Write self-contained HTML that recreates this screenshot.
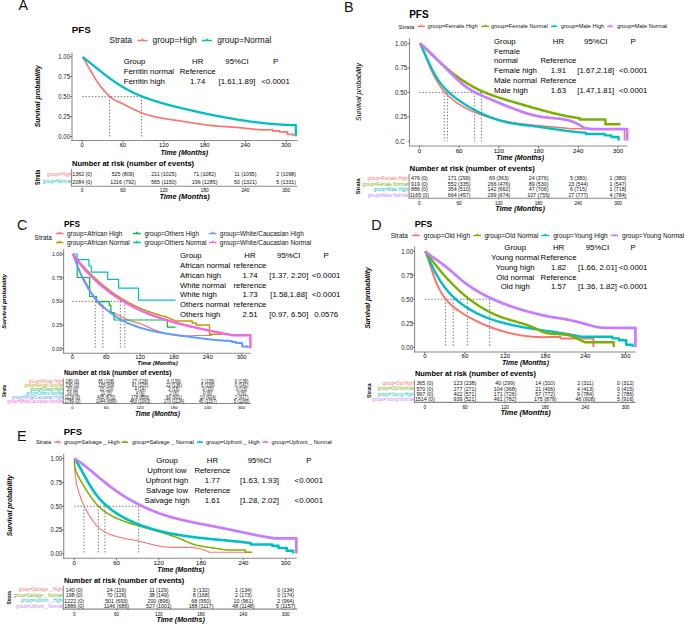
<!DOCTYPE html>
<html><head><meta charset="utf-8"><title>PFS</title>
<style>
html,body{margin:0;padding:0;background:#fff;}
body{width:685px;height:624px;overflow:hidden;}
svg{display:block;font-family:"Liberation Sans", sans-serif;}
</style></head><body>
<svg width="685" height="624" viewBox="0 0 685 624">
<rect width="685" height="624" fill="#fff"/>
<text x="18.40" y="10.11" font-size="14.20" text-anchor="start" font-weight="normal" font-style="normal" fill="#111">A</text>
<text x="71.80" y="33.23" font-size="9.80" text-anchor="start" font-weight="bold" font-style="normal" fill="#000">PFS</text>
<text x="109.30" y="43.36" font-size="8.50" text-anchor="start" font-weight="normal" font-style="normal" fill="#111">Strata</text>
<path d="M137.40,40.50 H147.50" stroke="#F8766D" stroke-width="1.5" fill="none"/>
<path d="M140.85,40.80 L142.45,37.90 L144.05,40.80 Z" fill="#F8766D"/>
<text x="152.50" y="43.36" font-size="8.50" text-anchor="start" font-weight="normal" font-style="normal" fill="#111">group=High</text>
<path d="M202.00,40.50 H212.00" stroke="#00BFC4" stroke-width="1.5" fill="none"/>
<path d="M205.40,40.80 L207.00,37.90 L208.60,40.80 Z" fill="#00BFC4"/>
<text x="217.20" y="43.36" font-size="8.50" text-anchor="start" font-weight="normal" font-style="normal" fill="#111">group=Normal</text>
<line x1="72.00" y1="52.50" x2="72.00" y2="141.05" stroke="#8a8a8a" stroke-width="1.1"/>
<line x1="71.45" y1="140.50" x2="297.50" y2="140.50" stroke="#8a8a8a" stroke-width="1.1"/>
<line x1="70.00" y1="56.80" x2="72.00" y2="56.80" stroke="#555" stroke-width="0.8"/>
<text x="70.00" y="59.10" font-size="6.40" text-anchor="end" font-weight="normal" font-style="normal" fill="#222" textLength="11.7" lengthAdjust="spacingAndGlyphs">1.00</text>
<line x1="70.00" y1="76.72" x2="72.00" y2="76.72" stroke="#555" stroke-width="0.8"/>
<text x="70.00" y="79.03" font-size="6.40" text-anchor="end" font-weight="normal" font-style="normal" fill="#222" textLength="11.7" lengthAdjust="spacingAndGlyphs">0.75</text>
<line x1="70.00" y1="96.65" x2="72.00" y2="96.65" stroke="#555" stroke-width="0.8"/>
<text x="70.00" y="98.95" font-size="6.40" text-anchor="end" font-weight="normal" font-style="normal" fill="#222" textLength="11.7" lengthAdjust="spacingAndGlyphs">0.50</text>
<line x1="70.00" y1="116.58" x2="72.00" y2="116.58" stroke="#555" stroke-width="0.8"/>
<text x="70.00" y="118.88" font-size="6.40" text-anchor="end" font-weight="normal" font-style="normal" fill="#222" textLength="11.7" lengthAdjust="spacingAndGlyphs">0.25</text>
<line x1="70.00" y1="136.50" x2="72.00" y2="136.50" stroke="#555" stroke-width="0.8"/>
<text x="70.00" y="138.80" font-size="6.40" text-anchor="end" font-weight="normal" font-style="normal" fill="#222" textLength="11.7" lengthAdjust="spacingAndGlyphs">0.00</text>
<line x1="82.20" y1="140.50" x2="82.20" y2="142.50" stroke="#555" stroke-width="0.8"/>
<text x="82.20" y="147.49" font-size="5.80" text-anchor="middle" font-weight="normal" font-style="normal" fill="#000">0</text>
<line x1="123.00" y1="140.50" x2="123.00" y2="142.50" stroke="#555" stroke-width="0.8"/>
<text x="123.00" y="147.49" font-size="5.80" text-anchor="middle" font-weight="normal" font-style="normal" fill="#000">60</text>
<line x1="163.80" y1="140.50" x2="163.80" y2="142.50" stroke="#555" stroke-width="0.8"/>
<text x="163.80" y="147.49" font-size="5.80" text-anchor="middle" font-weight="normal" font-style="normal" fill="#000">120</text>
<line x1="204.60" y1="140.50" x2="204.60" y2="142.50" stroke="#555" stroke-width="0.8"/>
<text x="204.60" y="147.49" font-size="5.80" text-anchor="middle" font-weight="normal" font-style="normal" fill="#000">180</text>
<line x1="245.40" y1="140.50" x2="245.40" y2="142.50" stroke="#555" stroke-width="0.8"/>
<text x="245.40" y="147.49" font-size="5.80" text-anchor="middle" font-weight="normal" font-style="normal" fill="#000">240</text>
<line x1="286.20" y1="140.50" x2="286.20" y2="142.50" stroke="#555" stroke-width="0.8"/>
<text x="286.20" y="147.49" font-size="5.80" text-anchor="middle" font-weight="normal" font-style="normal" fill="#000">300</text>
<text transform="translate(40.01,96.30) rotate(-90)" x="0" y="0" font-size="6.70" text-anchor="middle" font-weight="bold" font-style="italic" fill="#000">Survival probability</text>
<text x="184.30" y="154.72" font-size="7.00" text-anchor="middle" font-weight="bold" font-style="italic" fill="#000">Time (Months)</text>
<text x="123.70" y="64.31" font-size="7.80" text-anchor="start" font-weight="normal" font-style="normal" fill="#000">Group</text>
<text x="197.70" y="64.31" font-size="7.80" text-anchor="middle" font-weight="normal" font-style="normal" fill="#000">HR</text>
<text x="237.00" y="64.31" font-size="7.80" text-anchor="middle" font-weight="normal" font-style="normal" fill="#000">95%CI</text>
<text x="275.60" y="64.31" font-size="7.80" text-anchor="middle" font-weight="normal" font-style="normal" fill="#000">P</text>
<text x="123.70" y="74.31" font-size="7.80" text-anchor="start" font-weight="normal" font-style="normal" fill="#000">Ferritin normal</text>
<text x="197.70" y="74.31" font-size="7.80" text-anchor="middle" font-weight="normal" font-style="normal" fill="#000">Reference</text>
<text x="123.70" y="84.11" font-size="7.80" text-anchor="start" font-weight="normal" font-style="normal" fill="#000">Ferritin high</text>
<text x="197.70" y="84.11" font-size="7.80" text-anchor="middle" font-weight="normal" font-style="normal" fill="#000">1.74</text>
<text x="237.00" y="84.11" font-size="7.80" text-anchor="middle" font-weight="normal" font-style="normal" fill="#000">[1.61,1.89]</text>
<text x="275.60" y="84.11" font-size="7.80" text-anchor="middle" font-weight="normal" font-style="normal" fill="#000">&lt;0.0001</text>
<line x1="82.20" y1="96.65" x2="141.43" y2="96.65" stroke="#444" stroke-width="0.75" stroke-dasharray="1.4,1.8"/>
<line x1="109.60" y1="96.65" x2="109.60" y2="136.50" stroke="#444" stroke-width="0.75" stroke-dasharray="1.4,1.8"/>
<line x1="141.43" y1="96.65" x2="141.43" y2="136.50" stroke="#444" stroke-width="0.75" stroke-dasharray="1.4,1.8"/>
<path d="M82.50,56.90 L82.93,57.58 L83.36,58.26 L83.79,58.95 L84.21,59.63 L84.62,60.32 L85.03,61.01 L85.44,61.70 L85.84,62.39 L86.24,63.08 L86.64,63.77 L87.04,64.47 L87.43,65.16 L87.82,65.86 L88.21,66.55 L88.60,67.25 L88.99,67.94 L89.38,68.64 L89.77,69.33 L90.16,70.03 L90.55,70.72 L90.94,71.42 L91.34,72.11 L91.73,72.80 L92.13,73.50 L92.53,74.19 L92.93,74.88 L93.34,75.56 L93.75,76.25 L94.16,76.93 L94.58,77.62 L95.00,78.30 L95.43,78.97 L95.86,79.65 L96.30,80.32 L96.74,81.00 L97.19,81.66 L97.64,82.33 L98.10,82.99 L98.56,83.65 L99.03,84.30 L99.50,84.95 L99.98,85.60 L100.47,86.24 L100.96,86.88 L101.45,87.51 L101.95,88.14 L102.46,88.77 L102.97,89.39 L103.49,90.00 L104.01,90.61 L104.54,91.21 L105.08,91.80 L105.62,92.39 L106.16,92.98 L106.72,93.55 L107.28,94.12 L107.84,94.68 L108.41,95.24 L108.99,95.79 L109.58,96.33 L110.17,96.86 L110.77,97.38 L111.37,97.89 L112.00,98.38 L112.63,98.84 L113.29,99.28 L113.96,99.69 L114.65,100.06 L115.36,100.41 L116.07,100.75 L116.80,101.07 L117.54,101.38 L118.27,101.69 L119.01,102.00 L119.74,102.32 L120.46,102.65 L121.19,102.99 L121.91,103.34 L122.62,103.69 L123.34,104.05 L124.05,104.42 L124.76,104.78 L125.47,105.15 L126.19,105.52 L126.90,105.89 L127.61,106.26 L128.32,106.63 L129.04,107.00 L129.75,107.37 L130.47,107.73 L131.18,108.09 L131.90,108.45 L132.62,108.81 L133.34,109.16 L134.06,109.51 L134.79,109.85 L135.51,110.19 L136.24,110.52 L136.97,110.85 L137.70,111.18 L138.43,111.50 L139.17,111.81 L139.91,112.11 L140.65,112.41 L141.39,112.70 L142.13,112.98 L142.88,113.26 L143.63,113.53 L144.38,113.79 L145.14,114.04 L145.89,114.29 L146.65,114.53 L147.41,114.76 L148.18,114.99 L148.94,115.21 L149.71,115.43 L150.48,115.64 L151.25,115.84 L152.02,116.04 L152.80,116.24 L153.57,116.42 L154.35,116.61 L155.13,116.79 L155.91,116.96 L156.69,117.13 L157.47,117.30 L158.26,117.46 L159.04,117.61 L159.83,117.77 L160.62,117.92 L161.41,118.07 L162.20,118.21 L162.99,118.35 L163.78,118.49 L164.57,118.62 L165.36,118.75 L166.16,118.88 L166.95,119.01 L167.75,119.14 L168.54,119.26 L169.34,119.38 L170.13,119.51 L170.93,119.62 L171.73,119.74 L172.52,119.86 L173.32,119.98 L174.12,120.09 L174.91,120.21 L175.71,120.32 L176.51,120.44 L177.30,120.55 L178.10,120.66 L178.90,120.78 L179.69,120.90 L180.49,121.01 L181.28,121.13 L182.08,121.25 L182.87,121.37 L183.66,121.49 L184.45,121.61 L185.25,121.73 L186.04,121.85 L186.83,121.98 L187.62,122.10 L188.41,122.23 L189.20,122.35 L189.99,122.48 L190.78,122.61 L191.56,122.73 L192.35,122.86 L193.14,122.98 L193.93,123.11 L194.72,123.23 L195.51,123.36 L196.29,123.48 L197.08,123.60 L197.87,123.72 L198.66,123.84 L199.45,123.96 L200.23,124.07 L201.02,124.19 L201.81,124.30 L202.60,124.41 L203.39,124.52 L204.18,124.63 L204.97,124.73 L205.76,124.84 L206.55,124.94 L207.34,125.03 L208.14,125.13 L208.93,125.22 L209.72,125.31 L210.52,125.39 L211.31,125.47 L212.11,125.55 L212.90,125.63 L213.70,125.71 L214.50,125.78 L215.30,125.85 L216.09,125.92 L216.89,125.99 L217.69,126.05 L218.49,126.11 L219.29,126.18 L220.09,126.24 L220.89,126.30 L221.69,126.36 L222.49,126.41 L223.29,126.47 L224.09,126.53 L224.89,126.58 L225.69,126.64 L226.49,126.69 L227.29,126.75 L228.09,126.80 L228.89,126.86 L229.69,126.92 L230.49,126.97 L231.29,127.03 L232.09,127.09 L232.89,127.15 L233.69,127.21 L234.49,127.27 L235.29,127.33 L236.09,127.39 L236.89,127.46 L237.69,127.52 L238.49,127.59 L239.28,127.66 L240.08,127.74 L240.88,127.81 L241.68,127.89 L242.47,127.97 L243.27,128.05 L244.06,128.13 L244.86,128.22 L245.65,128.30 L246.45,128.39 L247.24,128.48 L248.03,128.56 L248.83,128.65 L249.62,128.74 L250.41,128.82 L251.21,128.91 L252.00,128.99 L252.80,129.07 L253.59,129.15 L254.38,129.22 L255.18,129.30 L255.97,129.37 L256.77,129.44 L257.56,129.50 L258.36,129.56 L259.15,129.62 L259.95,129.67 L260.75,129.71 L261.55,129.75 L262.34,129.79 L263.14,129.82 L263.94,129.84 L264.74,129.86 L265.54,129.87 L266.35,129.87 L267.15,129.87 L267.95,129.85 L268.76,129.83 L269.56,129.81 L270.37,129.77 L271.18,129.72 L271.99,129.67 L272.80,129.60 V130.90 H279.40 V131.90 H287.30 V134.40 H293.60 V136.30" fill="none" stroke="#F8766D" stroke-width="1.7" stroke-linejoin="round"/>
<path d="M82.50,56.90 L83.13,57.39 L83.76,57.88 L84.39,58.37 L85.02,58.86 L85.65,59.36 L86.28,59.86 L86.91,60.35 L87.53,60.85 L88.16,61.35 L88.79,61.86 L89.41,62.36 L90.04,62.86 L90.67,63.37 L91.29,63.87 L91.92,64.38 L92.54,64.89 L93.17,65.39 L93.80,65.90 L94.42,66.41 L95.05,66.91 L95.68,67.42 L96.30,67.93 L96.93,68.43 L97.56,68.94 L98.19,69.44 L98.82,69.95 L99.45,70.45 L100.08,70.95 L100.71,71.45 L101.34,71.95 L101.98,72.45 L102.61,72.95 L103.25,73.44 L103.88,73.94 L104.52,74.43 L105.16,74.92 L105.80,75.40 L106.44,75.89 L107.08,76.37 L107.72,76.86 L108.37,77.33 L109.01,77.81 L109.66,78.28 L110.31,78.76 L110.96,79.22 L111.61,79.69 L112.26,80.15 L112.92,80.61 L113.57,81.07 L114.23,81.52 L114.89,81.98 L115.55,82.42 L116.21,82.87 L116.88,83.31 L117.54,83.75 L118.21,84.18 L118.88,84.61 L119.55,85.04 L120.23,85.46 L120.90,85.88 L121.58,86.29 L122.26,86.70 L122.94,87.11 L123.63,87.51 L124.31,87.91 L125.00,88.30 L125.69,88.69 L126.38,89.08 L127.08,89.46 L127.77,89.84 L128.47,90.21 L129.17,90.57 L129.88,90.93 L130.58,91.29 L131.29,91.65 L132.00,91.99 L132.71,92.34 L133.43,92.68 L134.14,93.02 L134.86,93.35 L135.58,93.68 L136.30,94.00 L137.03,94.32 L137.75,94.64 L138.48,94.95 L139.21,95.26 L139.94,95.56 L140.67,95.86 L141.41,96.16 L142.14,96.45 L142.88,96.74 L143.62,97.03 L144.36,97.32 L145.10,97.60 L145.85,97.87 L146.59,98.15 L147.34,98.42 L148.09,98.69 L148.84,98.95 L149.59,99.21 L150.34,99.47 L151.09,99.73 L151.85,99.98 L152.61,100.23 L153.36,100.48 L154.12,100.72 L154.88,100.97 L155.64,101.21 L156.41,101.44 L157.17,101.68 L157.93,101.91 L158.70,102.14 L159.47,102.37 L160.23,102.59 L161.00,102.82 L161.77,103.04 L162.54,103.26 L163.31,103.48 L164.08,103.69 L164.86,103.91 L165.63,104.12 L166.40,104.33 L167.18,104.54 L167.95,104.74 L168.73,104.95 L169.51,105.15 L170.28,105.36 L171.06,105.56 L171.84,105.76 L172.62,105.95 L173.40,106.15 L174.18,106.35 L174.96,106.54 L175.74,106.74 L176.52,106.93 L177.30,107.12 L178.08,107.31 L178.86,107.50 L179.64,107.69 L180.43,107.88 L181.21,108.07 L181.99,108.25 L182.77,108.44 L183.56,108.63 L184.34,108.81 L185.12,109.00 L185.90,109.18 L186.69,109.36 L187.47,109.55 L188.25,109.73 L189.04,109.91 L189.82,110.09 L190.60,110.27 L191.39,110.45 L192.17,110.63 L192.95,110.81 L193.74,110.99 L194.52,111.17 L195.30,111.35 L196.09,111.52 L196.87,111.70 L197.66,111.87 L198.44,112.05 L199.23,112.22 L200.01,112.39 L200.79,112.56 L201.58,112.74 L202.36,112.91 L203.15,113.08 L203.93,113.24 L204.72,113.41 L205.50,113.58 L206.29,113.75 L207.07,113.91 L207.86,114.08 L208.65,114.24 L209.43,114.40 L210.22,114.57 L211.00,114.73 L211.79,114.89 L212.57,115.05 L213.36,115.21 L214.15,115.37 L214.93,115.52 L215.72,115.68 L216.51,115.83 L217.29,115.99 L218.08,116.14 L218.87,116.29 L219.65,116.45 L220.44,116.60 L221.23,116.75 L222.02,116.89 L222.80,117.04 L223.59,117.19 L224.38,117.33 L225.17,117.48 L225.95,117.62 L226.74,117.77 L227.53,117.91 L228.32,118.05 L229.11,118.19 L229.89,118.33 L230.68,118.46 L231.47,118.60 L232.26,118.73 L233.05,118.87 L233.84,119.00 L234.63,119.13 L235.42,119.26 L236.21,119.39 L237.00,119.52 L237.79,119.65 L238.58,119.77 L239.37,119.90 L240.16,120.02 L240.95,120.15 L241.74,120.27 L242.53,120.39 L243.32,120.51 L244.11,120.62 L244.90,120.74 L245.69,120.86 L246.48,120.97 L247.27,121.08 L248.06,121.19 L248.86,121.30 L249.65,121.41 L250.44,121.52 L251.23,121.63 L252.02,121.73 L252.81,121.83 L253.61,121.94 L254.40,122.04 L255.19,122.14 L255.98,122.23 L256.78,122.33 L257.57,122.43 L258.36,122.52 L259.16,122.61 L259.95,122.70 L260.74,122.79 L261.54,122.88 L262.33,122.97 L263.12,123.05 L263.92,123.14 L264.71,123.22 L265.51,123.30 L266.30,123.38 L267.10,123.46 L267.89,123.54 L268.68,123.61 L269.48,123.68 L270.28,123.76 L271.07,123.83 L271.87,123.90 L272.66,123.96 L273.46,124.03 L274.25,124.09 L275.05,124.16 L275.85,124.22 L276.64,124.28 L277.44,124.33 L278.23,124.39 L279.03,124.44 L279.83,124.50 L280.63,124.55 L281.42,124.60 L282.22,124.65 L283.02,124.69 L283.82,124.74 L284.61,124.78 L285.41,124.82 L286.21,124.86 L287.01,124.90 L287.81,124.94 L288.61,124.97 L289.40,125.00 L290.20,125.03 L291.00,125.06 L291.80,125.09 L292.60,125.12 L293.40,125.14 L294.20,125.16 L295.00,125.18 L295.80,125.20 V136.30" fill="none" stroke="#00BFC4" stroke-width="2.3" stroke-linejoin="round"/>
<text x="72.00" y="165.90" font-size="7.50" text-anchor="start" font-weight="bold" font-style="normal" fill="#000">Number at risk (number of events)</text>
<text transform="translate(39.87,177.40) rotate(-90)" x="0" y="0" font-size="6.30" text-anchor="middle" font-weight="bold" font-style="normal" fill="#000" textLength="15.0" lengthAdjust="spacingAndGlyphs">Strata</text>
<line x1="71.60" y1="169.00" x2="71.60" y2="186.75" stroke="#8a8a8a" stroke-width="1.1"/>
<line x1="71.05" y1="186.20" x2="297.20" y2="186.20" stroke="#8a8a8a" stroke-width="1.1"/>
<text x="47.10" y="175.73" font-size="4.80" text-anchor="start" font-weight="normal" font-style="normal" fill="#F8766D" textLength="23.9" lengthAdjust="spacingAndGlyphs">group=High</text>
<line x1="70.10" y1="174.00" x2="71.60" y2="174.00" stroke="#8a8a8a" stroke-width="0.6"/>
<text x="82.20" y="175.91" font-size="5.30" text-anchor="middle" font-weight="normal" font-style="normal" fill="#111">1362 (0)</text>
<text x="123.00" y="175.91" font-size="5.30" text-anchor="middle" font-weight="normal" font-style="normal" fill="#111">525 (809)</text>
<text x="163.80" y="175.91" font-size="5.30" text-anchor="middle" font-weight="normal" font-style="normal" fill="#111">211 (1025)</text>
<text x="204.60" y="175.91" font-size="5.30" text-anchor="middle" font-weight="normal" font-style="normal" fill="#111">71 (1082)</text>
<text x="245.40" y="175.91" font-size="5.30" text-anchor="middle" font-weight="normal" font-style="normal" fill="#111">11 (1095)</text>
<text x="286.20" y="175.91" font-size="5.30" text-anchor="middle" font-weight="normal" font-style="normal" fill="#111">2 (1098)</text>
<text x="42.40" y="183.33" font-size="4.80" text-anchor="start" font-weight="normal" font-style="normal" fill="#00BFC4" textLength="28.6" lengthAdjust="spacingAndGlyphs">group=Normal</text>
<line x1="70.10" y1="181.60" x2="71.60" y2="181.60" stroke="#8a8a8a" stroke-width="0.6"/>
<text x="82.20" y="183.51" font-size="5.30" text-anchor="middle" font-weight="normal" font-style="normal" fill="#111">2084 (0)</text>
<text x="123.00" y="183.51" font-size="5.30" text-anchor="middle" font-weight="normal" font-style="normal" fill="#111">1216 (792)</text>
<text x="163.80" y="183.51" font-size="5.30" text-anchor="middle" font-weight="normal" font-style="normal" fill="#111">565 (1150)</text>
<text x="204.60" y="183.51" font-size="5.30" text-anchor="middle" font-weight="normal" font-style="normal" fill="#111">196 (1285)</text>
<text x="245.40" y="183.51" font-size="5.30" text-anchor="middle" font-weight="normal" font-style="normal" fill="#111">50 (1321)</text>
<text x="286.20" y="183.51" font-size="5.30" text-anchor="middle" font-weight="normal" font-style="normal" fill="#111">5 (1331)</text>
<line x1="82.20" y1="186.20" x2="82.20" y2="187.70" stroke="#8a8a8a" stroke-width="0.6"/>
<text x="82.20" y="191.93" font-size="4.80" text-anchor="middle" font-weight="normal" font-style="normal" fill="#000">0</text>
<line x1="123.00" y1="186.20" x2="123.00" y2="187.70" stroke="#8a8a8a" stroke-width="0.6"/>
<text x="123.00" y="191.93" font-size="4.80" text-anchor="middle" font-weight="normal" font-style="normal" fill="#000">60</text>
<line x1="163.80" y1="186.20" x2="163.80" y2="187.70" stroke="#8a8a8a" stroke-width="0.6"/>
<text x="163.80" y="191.93" font-size="4.80" text-anchor="middle" font-weight="normal" font-style="normal" fill="#000">120</text>
<line x1="204.60" y1="186.20" x2="204.60" y2="187.70" stroke="#8a8a8a" stroke-width="0.6"/>
<text x="204.60" y="191.93" font-size="4.80" text-anchor="middle" font-weight="normal" font-style="normal" fill="#000">180</text>
<line x1="245.40" y1="186.20" x2="245.40" y2="187.70" stroke="#8a8a8a" stroke-width="0.6"/>
<text x="245.40" y="191.93" font-size="4.80" text-anchor="middle" font-weight="normal" font-style="normal" fill="#000">240</text>
<line x1="286.20" y1="186.20" x2="286.20" y2="187.70" stroke="#8a8a8a" stroke-width="0.6"/>
<text x="286.20" y="191.93" font-size="4.80" text-anchor="middle" font-weight="normal" font-style="normal" fill="#000">300</text>
<text x="184.60" y="199.06" font-size="7.40" text-anchor="middle" font-weight="bold" font-style="italic" fill="#000">Time (Months)</text>
<text x="344.00" y="12.38" font-size="14.40" text-anchor="start" font-weight="normal" font-style="normal" fill="#111">B</text>
<text x="409.20" y="18.20" font-size="10.00" text-anchor="start" font-weight="bold" font-style="normal" fill="#000">PFS</text>
<text x="398.60" y="28.52" font-size="5.90" text-anchor="start" font-weight="normal" font-style="normal" fill="#111">Strata</text>
<path d="M417.70,26.40 H425.00" stroke="#F8766D" stroke-width="1.5" fill="none"/>
<path d="M419.75,26.70 L421.35,24.21 L422.95,26.70 Z" fill="#F8766D"/>
<text x="427.50" y="28.45" font-size="5.70" text-anchor="start" font-weight="normal" font-style="normal" fill="#111">group=Female High</text>
<path d="M481.50,26.40 H489.00" stroke="#7CAE00" stroke-width="1.5" fill="none"/>
<path d="M483.65,26.70 L485.25,24.15 L486.85,26.70 Z" fill="#7CAE00"/>
<text x="491.00" y="28.45" font-size="5.70" text-anchor="start" font-weight="normal" font-style="normal" fill="#111">group=Female Normal</text>
<path d="M551.20,26.40 H557.20" stroke="#00BFC4" stroke-width="1.5" fill="none"/>
<path d="M552.60,26.70 L554.20,24.60 L555.80,26.70 Z" fill="#00BFC4"/>
<text x="560.80" y="28.45" font-size="5.70" text-anchor="start" font-weight="normal" font-style="normal" fill="#111">group=Male High</text>
<path d="M607.20,26.40 H613.20" stroke="#C77CFF" stroke-width="1.5" fill="none"/>
<path d="M608.60,26.70 L610.20,24.60 L611.80,26.70 Z" fill="#C77CFF"/>
<text x="617.00" y="28.45" font-size="5.70" text-anchor="start" font-weight="normal" font-style="normal" fill="#111">group=Male Normal</text>
<line x1="409.50" y1="38.30" x2="409.50" y2="146.55" stroke="#8a8a8a" stroke-width="1.1"/>
<line x1="408.95" y1="146.00" x2="627.50" y2="146.00" stroke="#8a8a8a" stroke-width="1.1"/>
<line x1="407.50" y1="43.60" x2="409.50" y2="43.60" stroke="#555" stroke-width="0.8"/>
<text x="407.20" y="45.94" font-size="6.50" text-anchor="end" font-weight="normal" font-style="normal" fill="#222" textLength="12.1" lengthAdjust="spacingAndGlyphs">1.00</text>
<line x1="407.50" y1="68.00" x2="409.50" y2="68.00" stroke="#555" stroke-width="0.8"/>
<text x="407.20" y="70.34" font-size="6.50" text-anchor="end" font-weight="normal" font-style="normal" fill="#222" textLength="12.1" lengthAdjust="spacingAndGlyphs">0.75</text>
<line x1="407.50" y1="92.40" x2="409.50" y2="92.40" stroke="#555" stroke-width="0.8"/>
<text x="407.20" y="94.74" font-size="6.50" text-anchor="end" font-weight="normal" font-style="normal" fill="#222" textLength="12.1" lengthAdjust="spacingAndGlyphs">0.50</text>
<line x1="407.50" y1="116.80" x2="409.50" y2="116.80" stroke="#555" stroke-width="0.8"/>
<text x="407.20" y="119.14" font-size="6.50" text-anchor="end" font-weight="normal" font-style="normal" fill="#222" textLength="12.1" lengthAdjust="spacingAndGlyphs">0.25</text>
<line x1="407.50" y1="141.20" x2="409.50" y2="141.20" stroke="#555" stroke-width="0.8"/>
<line x1="419.40" y1="146.00" x2="419.40" y2="148.00" stroke="#555" stroke-width="0.8"/>
<text x="419.40" y="152.73" font-size="6.20" text-anchor="middle" font-weight="normal" font-style="normal" fill="#000">0</text>
<line x1="459.12" y1="146.00" x2="459.12" y2="148.00" stroke="#555" stroke-width="0.8"/>
<text x="459.12" y="152.73" font-size="6.20" text-anchor="middle" font-weight="normal" font-style="normal" fill="#000">60</text>
<line x1="498.84" y1="146.00" x2="498.84" y2="148.00" stroke="#555" stroke-width="0.8"/>
<text x="498.84" y="152.73" font-size="6.20" text-anchor="middle" font-weight="normal" font-style="normal" fill="#000">120</text>
<line x1="538.56" y1="146.00" x2="538.56" y2="148.00" stroke="#555" stroke-width="0.8"/>
<text x="538.56" y="152.73" font-size="6.20" text-anchor="middle" font-weight="normal" font-style="normal" fill="#000">180</text>
<line x1="578.28" y1="146.00" x2="578.28" y2="148.00" stroke="#555" stroke-width="0.8"/>
<text x="578.28" y="152.73" font-size="6.20" text-anchor="middle" font-weight="normal" font-style="normal" fill="#000">240</text>
<line x1="618.00" y1="146.00" x2="618.00" y2="148.00" stroke="#555" stroke-width="0.8"/>
<text x="618.00" y="152.73" font-size="6.20" text-anchor="middle" font-weight="normal" font-style="normal" fill="#000">300</text>
<text x="395.20" y="143.74" font-size="6.50" text-anchor="start" font-weight="normal" font-style="normal" fill="#222" textLength="9.6" lengthAdjust="spacingAndGlyphs">0.C</text>
<text transform="translate(360.68,92.00) rotate(-90)" x="0" y="0" font-size="6.90" text-anchor="middle" font-weight="normal" font-style="italic" fill="#000">Survival probability</text>
<text x="520.20" y="160.42" font-size="7.00" text-anchor="middle" font-weight="bold" font-style="italic" fill="#000">Time (Months)</text>
<text x="494.00" y="43.81" font-size="7.80" text-anchor="start" font-weight="normal" font-style="normal" fill="#000">Group</text>
<text x="558.40" y="43.81" font-size="7.80" text-anchor="middle" font-weight="normal" font-style="normal" fill="#000">HR</text>
<text x="595.80" y="43.81" font-size="7.80" text-anchor="middle" font-weight="normal" font-style="normal" fill="#000">95%CI</text>
<text x="633.20" y="43.81" font-size="7.80" text-anchor="middle" font-weight="normal" font-style="normal" fill="#000">P</text>
<text x="494.00" y="53.71" font-size="7.80" text-anchor="start" font-weight="normal" font-style="normal" fill="#000">Female</text>
<text x="494.00" y="63.31" font-size="7.80" text-anchor="start" font-weight="normal" font-style="normal" fill="#000">normal</text>
<text x="558.40" y="63.31" font-size="7.80" text-anchor="middle" font-weight="normal" font-style="normal" fill="#000">Reference</text>
<text x="494.00" y="72.81" font-size="7.80" text-anchor="start" font-weight="normal" font-style="normal" fill="#000">Female high</text>
<text x="558.40" y="72.81" font-size="7.80" text-anchor="middle" font-weight="normal" font-style="normal" fill="#000">1.91</text>
<text x="595.80" y="72.81" font-size="7.80" text-anchor="middle" font-weight="normal" font-style="normal" fill="#000">[1.67,2.18]</text>
<text x="633.20" y="72.81" font-size="7.80" text-anchor="middle" font-weight="normal" font-style="normal" fill="#000">&lt;0.0001</text>
<text x="494.00" y="82.51" font-size="7.80" text-anchor="start" font-weight="normal" font-style="normal" fill="#000">Male normal</text>
<text x="558.40" y="82.51" font-size="7.80" text-anchor="middle" font-weight="normal" font-style="normal" fill="#000">Reference</text>
<text x="494.00" y="92.61" font-size="7.80" text-anchor="start" font-weight="normal" font-style="normal" fill="#000">Male high</text>
<text x="558.40" y="92.61" font-size="7.80" text-anchor="middle" font-weight="normal" font-style="normal" fill="#000">1.63</text>
<text x="595.80" y="92.61" font-size="7.80" text-anchor="middle" font-weight="normal" font-style="normal" fill="#000">[1.47,1.81]</text>
<text x="633.20" y="92.61" font-size="7.80" text-anchor="middle" font-weight="normal" font-style="normal" fill="#000">&lt;0.0001</text>
<line x1="444.22" y1="92.40" x2="444.22" y2="141.20" stroke="#444" stroke-width="0.75" stroke-dasharray="1.4,1.8"/>
<line x1="447.40" y1="92.40" x2="447.40" y2="141.20" stroke="#444" stroke-width="0.75" stroke-dasharray="1.4,1.8"/>
<line x1="474.61" y1="92.40" x2="474.61" y2="141.20" stroke="#444" stroke-width="0.75" stroke-dasharray="1.4,1.8"/>
<line x1="481.43" y1="92.40" x2="481.43" y2="141.20" stroke="#444" stroke-width="0.75" stroke-dasharray="1.4,1.8"/>
<line x1="419.40" y1="92.40" x2="481.43" y2="92.40" stroke="#444" stroke-width="0.75" stroke-dasharray="1.4,1.8"/>
<path d="M420.00,43.40 L420.32,44.11 L420.63,44.82 L420.95,45.54 L421.26,46.26 L421.57,46.98 L421.88,47.71 L422.19,48.44 L422.50,49.17 L422.80,49.90 L423.11,50.64 L423.42,51.38 L423.72,52.12 L424.03,52.87 L424.33,53.61 L424.63,54.36 L424.94,55.11 L425.24,55.86 L425.55,56.61 L425.85,57.36 L426.16,58.11 L426.47,58.86 L426.77,59.62 L427.08,60.37 L427.39,61.12 L427.71,61.88 L428.02,62.63 L428.33,63.39 L428.65,64.14 L428.97,64.89 L429.29,65.64 L429.62,66.39 L429.94,67.14 L430.27,67.89 L430.60,68.63 L430.94,69.38 L431.27,70.12 L431.61,70.86 L431.96,71.60 L432.30,72.34 L432.66,73.07 L433.01,73.80 L433.37,74.53 L433.73,75.25 L434.10,75.97 L434.47,76.69 L434.85,77.40 L435.23,78.11 L435.61,78.82 L436.00,79.52 L436.40,80.22 L436.80,80.92 L437.20,81.61 L437.61,82.29 L438.03,82.97 L438.45,83.64 L438.88,84.31 L439.32,84.98 L439.76,85.64 L440.21,86.29 L440.66,86.94 L441.12,87.58 L441.59,88.21 L442.06,88.84 L442.55,89.46 L443.03,90.08 L443.53,90.69 L444.04,91.29 L444.55,91.88 L445.07,92.47 L445.59,93.05 L446.13,93.62 L446.67,94.18 L447.22,94.74 L447.78,95.29 L448.34,95.84 L448.91,96.37 L449.49,96.90 L450.07,97.43 L450.66,97.94 L451.26,98.45 L451.86,98.95 L452.47,99.45 L453.08,99.94 L453.70,100.42 L454.33,100.90 L454.96,101.37 L455.60,101.83 L456.24,102.29 L456.89,102.74 L457.54,103.19 L458.20,103.63 L458.86,104.06 L459.53,104.49 L460.20,104.91 L460.88,105.32 L461.56,105.73 L462.24,106.14 L462.93,106.53 L463.63,106.92 L464.32,107.31 L465.02,107.69 L465.73,108.07 L466.43,108.44 L467.14,108.80 L467.86,109.16 L468.57,109.51 L469.29,109.86 L470.02,110.20 L470.74,110.54 L471.47,110.87 L472.20,111.20 L472.93,111.52 L473.67,111.84 L474.40,112.15 L475.14,112.46 L475.88,112.76 L476.62,113.06 L477.36,113.35 L478.11,113.64 L478.86,113.92 L479.60,114.20 L480.36,114.48 L481.11,114.75 L481.86,115.01 L482.62,115.27 L483.37,115.53 L484.13,115.78 L484.89,116.03 L485.65,116.27 L486.41,116.51 L487.18,116.75 L487.94,116.98 L488.71,117.21 L489.48,117.43 L490.25,117.65 L491.02,117.87 L491.79,118.08 L492.56,118.29 L493.34,118.50 L494.11,118.70 L494.89,118.90 L495.67,119.09 L496.45,119.28 L497.23,119.47 L498.01,119.65 L498.79,119.83 L499.58,120.01 L500.36,120.18 L501.15,120.36 L501.93,120.52 L502.72,120.69 L503.51,120.85 L504.30,121.01 L505.09,121.16 L505.88,121.32 L506.67,121.47 L507.47,121.61 L508.26,121.76 L509.05,121.90 L509.85,122.04 L510.64,122.18 L511.44,122.31 L512.24,122.44 L513.03,122.57 L513.83,122.70 L514.63,122.82 L515.43,122.94 L516.23,123.06 L517.03,123.18 L517.83,123.30 L518.63,123.41 L519.44,123.52 L520.24,123.63 L521.04,123.74 L521.84,123.85 L522.65,123.95 L523.45,124.05 L524.25,124.15 L525.06,124.25 L525.86,124.35 L526.67,124.44 L527.47,124.54 L528.28,124.63 L529.08,124.72 L529.89,124.81 L530.69,124.90 L531.50,124.99 L532.30,125.07 L533.11,125.16 L533.91,125.24 L534.72,125.32 L535.52,125.40 L536.33,125.48 L537.13,125.56 L537.94,125.64 L538.74,125.72 L539.55,125.80 L540.35,125.87 L541.16,125.95 L541.96,126.02 L542.76,126.10 L543.57,126.17 L544.37,126.24 L545.17,126.32 L545.98,126.39 L546.78,126.46 L547.58,126.53 L548.38,126.60 L549.18,126.67 L549.98,126.75 L550.78,126.82 L551.58,126.89 L552.38,126.96 L553.17,127.03 L553.97,127.10 L554.77,127.17 L555.56,127.24 L556.36,127.32 L557.15,127.39 L557.95,127.46 L558.74,127.53 L559.53,127.61 L560.32,127.68 L561.11,127.76 L561.90,127.83 L562.69,127.91 L563.48,127.98 L564.27,128.06 L565.05,128.14 L565.84,128.22 L566.62,128.30 L567.40,128.38 L568.18,128.46 L568.97,128.54 L569.74,128.63 L570.52,128.71 L571.30,128.80 H624.50 V140.60" fill="none" stroke="#F8766D" stroke-width="1.6" stroke-linejoin="round"/>
<path d="M420.00,43.40 L420.35,44.10 L420.69,44.80 L421.03,45.50 L421.37,46.21 L421.71,46.92 L422.05,47.63 L422.39,48.35 L422.72,49.07 L423.05,49.79 L423.38,50.52 L423.71,51.25 L424.05,51.98 L424.38,52.71 L424.70,53.44 L425.03,54.17 L425.36,54.91 L425.69,55.65 L426.02,56.38 L426.35,57.12 L426.68,57.86 L427.02,58.60 L427.35,59.34 L427.68,60.08 L428.02,60.82 L428.36,61.56 L428.70,62.30 L429.04,63.03 L429.38,63.77 L429.72,64.51 L430.07,65.24 L430.42,65.97 L430.77,66.70 L431.13,67.43 L431.49,68.16 L431.85,68.88 L432.22,69.61 L432.59,70.33 L432.96,71.04 L433.34,71.76 L433.72,72.47 L434.10,73.17 L434.49,73.88 L434.89,74.58 L435.28,75.27 L435.69,75.97 L436.10,76.65 L436.51,77.34 L436.93,78.02 L437.36,78.69 L437.79,79.36 L438.23,80.02 L438.67,80.68 L439.12,81.33 L439.57,81.98 L440.04,82.62 L440.51,83.25 L440.98,83.88 L441.47,84.50 L441.96,85.12 L442.46,85.72 L442.96,86.33 L443.48,86.92 L444.00,87.51 L444.52,88.09 L445.06,88.66 L445.60,89.23 L446.15,89.80 L446.70,90.35 L447.26,90.90 L447.82,91.45 L448.40,91.99 L448.97,92.52 L449.56,93.05 L450.15,93.57 L450.74,94.09 L451.34,94.60 L451.95,95.11 L452.56,95.61 L453.17,96.11 L453.79,96.60 L454.42,97.09 L455.04,97.57 L455.68,98.05 L456.31,98.53 L456.96,99.00 L457.60,99.47 L458.25,99.93 L458.90,100.39 L459.56,100.84 L460.22,101.30 L460.88,101.74 L461.55,102.19 L462.22,102.63 L462.89,103.07 L463.56,103.51 L464.24,103.94 L464.92,104.37 L465.60,104.79 L466.29,105.21 L466.98,105.63 L467.67,106.05 L468.36,106.46 L469.05,106.87 L469.75,107.27 L470.44,107.67 L471.14,108.07 L471.85,108.46 L472.55,108.85 L473.25,109.24 L473.96,109.62 L474.67,110.00 L475.37,110.38 L476.08,110.75 L476.79,111.11 L477.51,111.48 L478.22,111.84 L478.94,112.19 L479.65,112.55 L480.37,112.89 L481.09,113.24 L481.81,113.58 L482.53,113.91 L483.25,114.24 L483.98,114.57 L484.70,114.89 L485.43,115.21 L486.16,115.53 L486.89,115.84 L487.62,116.14 L488.36,116.44 L489.09,116.74 L489.83,117.03 L490.56,117.32 L491.30,117.60 L492.04,117.88 L492.79,118.15 L493.53,118.42 L494.28,118.68 L495.02,118.94 L495.77,119.19 L496.52,119.44 L497.28,119.69 L498.03,119.92 L498.78,120.16 L499.54,120.39 L500.30,120.61 L501.06,120.83 L501.82,121.04 L502.59,121.25 L503.35,121.45 L504.12,121.65 L504.89,121.84 L505.66,122.03 L506.43,122.21 L507.21,122.38 L507.98,122.55 L508.76,122.72 L509.54,122.88 L510.32,123.03 L511.10,123.18 L511.89,123.32 L512.67,123.46 L513.46,123.60 L514.25,123.73 L515.04,123.85 L515.83,123.98 L516.62,124.09 L517.42,124.21 L518.21,124.32 L519.01,124.43 L519.80,124.54 L520.60,124.65 L521.40,124.75 L522.19,124.85 L522.99,124.95 L523.79,125.05 L524.59,125.15 L525.39,125.24 L526.19,125.34 L526.99,125.43 L527.79,125.53 L528.59,125.62 L529.39,125.72 L530.19,125.81 L530.99,125.90 L531.79,126.00 L532.59,126.10 L533.39,126.20 L534.18,126.29 L534.98,126.40 L535.78,126.50 L536.57,126.60 L537.37,126.71 L538.17,126.81 L538.96,126.92 L539.75,127.03 L540.55,127.14 L541.34,127.25 L542.13,127.36 L542.93,127.48 L543.72,127.59 L544.51,127.71 L545.30,127.82 L546.09,127.94 L546.88,128.05 L547.67,128.17 L548.47,128.29 L549.26,128.40 L550.05,128.52 L550.83,128.64 L551.62,128.76 L552.41,128.87 L553.20,128.99 L553.99,129.11 L554.78,129.22 L555.57,129.34 L556.36,129.46 L557.15,129.57 L557.94,129.69 L558.73,129.80 L559.51,129.91 L560.30,130.02 L561.09,130.14 L561.88,130.25 L562.67,130.36 L563.46,130.46 L564.25,130.57 L565.04,130.68 L565.83,130.78 L566.62,130.88 L567.41,130.98 L568.20,131.08 L568.99,131.18 L569.78,131.28 L570.57,131.37 L571.37,131.46 L572.16,131.55 L572.95,131.64 L573.74,131.73 L574.54,131.81 L575.33,131.89 L576.13,131.97 L576.92,132.05 L577.72,132.12 L578.51,132.19 L579.31,132.26 L580.10,132.33 L580.90,132.39 L581.70,132.45 L582.50,132.51 L583.30,132.56 L584.10,132.61 L584.90,132.66 L585.70,132.70 V134.00 H604.80 V135.30 H611.40 V137.00 H618.60 V140.60" fill="none" stroke="#00BFC4" stroke-width="2.3" stroke-linejoin="round"/>
<path d="M420.00,43.40 L420.58,43.94 L421.17,44.47 L421.75,45.01 L422.34,45.55 L422.92,46.10 L423.50,46.64 L424.08,47.19 L424.67,47.74 L425.25,48.29 L425.83,48.84 L426.41,49.39 L426.99,49.94 L427.57,50.50 L428.15,51.05 L428.73,51.61 L429.32,52.16 L429.90,52.72 L430.48,53.28 L431.06,53.83 L431.64,54.39 L432.23,54.95 L432.81,55.50 L433.39,56.06 L433.98,56.62 L434.56,57.18 L435.15,57.73 L435.74,58.29 L436.32,58.84 L436.91,59.40 L437.50,59.95 L438.09,60.50 L438.68,61.05 L439.27,61.60 L439.87,62.15 L440.46,62.70 L441.06,63.24 L441.65,63.79 L442.25,64.33 L442.85,64.87 L443.45,65.41 L444.06,65.95 L444.66,66.48 L445.27,67.01 L445.87,67.54 L446.48,68.07 L447.09,68.60 L447.70,69.12 L448.32,69.64 L448.94,70.15 L449.55,70.67 L450.17,71.18 L450.80,71.68 L451.42,72.19 L452.05,72.69 L452.67,73.19 L453.31,73.68 L453.94,74.17 L454.57,74.66 L455.21,75.15 L455.85,75.63 L456.49,76.11 L457.13,76.58 L457.77,77.05 L458.42,77.52 L459.07,77.99 L459.72,78.45 L460.37,78.91 L461.03,79.36 L461.69,79.81 L462.35,80.26 L463.01,80.70 L463.67,81.14 L464.34,81.58 L465.01,82.01 L465.68,82.43 L466.35,82.86 L467.03,83.28 L467.70,83.69 L468.38,84.11 L469.07,84.51 L469.75,84.92 L470.44,85.32 L471.13,85.71 L471.82,86.10 L472.51,86.49 L473.21,86.87 L473.91,87.25 L474.61,87.62 L475.31,87.99 L476.02,88.36 L476.73,88.72 L477.44,89.07 L478.15,89.42 L478.87,89.77 L479.58,90.11 L480.31,90.45 L481.03,90.78 L481.75,91.11 L482.48,91.43 L483.21,91.75 L483.95,92.07 L484.68,92.38 L485.42,92.68 L486.16,92.98 L486.90,93.28 L487.65,93.57 L488.39,93.86 L489.14,94.15 L489.89,94.43 L490.64,94.71 L491.40,94.99 L492.15,95.26 L492.91,95.53 L493.66,95.80 L494.42,96.06 L495.18,96.32 L495.95,96.58 L496.71,96.84 L497.47,97.09 L498.24,97.34 L499.01,97.59 L499.77,97.84 L500.54,98.09 L501.31,98.33 L502.08,98.57 L502.85,98.81 L503.62,99.05 L504.39,99.29 L505.16,99.53 L505.93,99.76 L506.71,100.00 L507.48,100.23 L508.25,100.47 L509.03,100.70 L509.80,100.93 L510.57,101.16 L511.34,101.39 L512.12,101.62 L512.89,101.85 L513.66,102.08 L514.44,102.31 L515.21,102.54 L515.98,102.77 L516.76,103.00 L517.53,103.22 L518.31,103.45 L519.08,103.67 L519.85,103.90 L520.63,104.12 L521.40,104.35 L522.17,104.57 L522.95,104.80 L523.72,105.02 L524.49,105.24 L525.27,105.46 L526.04,105.68 L526.82,105.90 L527.59,106.12 L528.36,106.34 L529.14,106.56 L529.91,106.78 L530.68,107.00 L531.46,107.22 L532.23,107.44 L533.00,107.65 L533.78,107.87 L534.55,108.09 L535.32,108.30 L536.10,108.52 L536.87,108.73 L537.64,108.95 L538.41,109.16 L539.19,109.37 L539.96,109.59 L540.73,109.80 L541.51,110.01 L542.28,110.22 L543.05,110.43 L543.82,110.64 L544.60,110.84 L545.37,111.05 L546.15,111.25 L546.92,111.46 L547.69,111.66 L548.47,111.86 L549.24,112.06 L550.02,112.26 L550.79,112.45 L551.57,112.65 L552.34,112.84 L553.12,113.04 L553.89,113.23 L554.67,113.42 L555.45,113.60 L556.22,113.79 L557.00,113.97 L557.78,114.16 L558.56,114.34 L559.34,114.51 L560.11,114.69 L560.89,114.86 L561.67,115.04 L562.45,115.20 L563.24,115.37 L564.02,115.54 L564.80,115.70 L565.58,115.86 L566.37,116.02 L567.15,116.17 L567.94,116.32 L568.72,116.47 L569.51,116.61 L570.29,116.76 L571.08,116.90 L571.87,117.03 L572.66,117.17 L573.45,117.29 L574.24,117.42 L575.03,117.54 L575.82,117.66 L576.62,117.78 L577.41,117.89 L578.21,118.00 L579.00,118.10 L579.80,118.20 V119.60 H605.40 V124.20 H620.50" fill="none" stroke="#7CAE00" stroke-width="2.5" stroke-linejoin="round"/>
<path d="M420.00,43.40 L420.61,43.92 L421.22,44.44 L421.83,44.97 L422.43,45.50 L423.03,46.03 L423.63,46.56 L424.23,47.10 L424.83,47.63 L425.42,48.17 L426.01,48.71 L426.60,49.25 L427.19,49.80 L427.78,50.34 L428.36,50.89 L428.95,51.44 L429.53,51.99 L430.11,52.54 L430.69,53.10 L431.27,53.65 L431.85,54.21 L432.42,54.77 L433.00,55.33 L433.57,55.89 L434.14,56.45 L434.71,57.01 L435.29,57.57 L435.86,58.14 L436.42,58.70 L436.99,59.27 L437.56,59.84 L438.13,60.40 L438.70,60.97 L439.26,61.54 L439.83,62.11 L440.39,62.68 L440.96,63.25 L441.52,63.81 L442.09,64.38 L442.65,64.95 L443.22,65.52 L443.78,66.09 L444.35,66.66 L444.91,67.23 L445.48,67.80 L446.04,68.37 L446.61,68.94 L447.17,69.51 L447.74,70.08 L448.31,70.65 L448.87,71.21 L449.44,71.78 L450.01,72.35 L450.58,72.91 L451.15,73.48 L451.72,74.04 L452.29,74.60 L452.87,75.16 L453.44,75.72 L454.01,76.28 L454.59,76.84 L455.17,77.40 L455.75,77.95 L456.33,78.51 L456.91,79.06 L457.49,79.61 L458.07,80.16 L458.66,80.71 L459.25,81.25 L459.84,81.79 L460.44,82.33 L461.04,82.86 L461.64,83.38 L462.25,83.90 L462.86,84.41 L463.48,84.92 L464.11,85.42 L464.74,85.91 L465.38,86.39 L466.02,86.86 L466.67,87.32 L467.33,87.77 L468.00,88.21 L468.67,88.65 L469.35,89.07 L470.03,89.49 L470.72,89.90 L471.41,90.31 L472.10,90.71 L472.80,91.10 L473.51,91.48 L474.21,91.86 L474.92,92.23 L475.63,92.60 L476.34,92.96 L477.06,93.32 L477.77,93.67 L478.49,94.02 L479.21,94.36 L479.94,94.70 L480.66,95.04 L481.39,95.37 L482.11,95.70 L482.84,96.03 L483.57,96.35 L484.30,96.68 L485.03,96.99 L485.77,97.31 L486.50,97.62 L487.24,97.94 L487.98,98.25 L488.71,98.56 L489.45,98.86 L490.19,99.17 L490.93,99.48 L491.67,99.78 L492.41,100.09 L493.15,100.39 L493.89,100.70 L494.63,101.00 L495.37,101.31 L496.11,101.62 L496.85,101.92 L497.60,102.23 L498.34,102.54 L499.08,102.85 L499.82,103.16 L500.56,103.46 L501.30,103.77 L502.05,104.08 L502.79,104.39 L503.53,104.70 L504.27,105.00 L505.02,105.31 L505.76,105.62 L506.50,105.92 L507.25,106.22 L507.99,106.53 L508.74,106.83 L509.48,107.13 L510.23,107.42 L510.97,107.72 L511.72,108.02 L512.47,108.31 L513.22,108.60 L513.97,108.89 L514.72,109.17 L515.47,109.46 L516.22,109.74 L516.97,110.02 L517.72,110.30 L518.47,110.57 L519.23,110.84 L519.98,111.11 L520.74,111.37 L521.49,111.63 L522.25,111.89 L523.01,112.14 L523.77,112.39 L524.53,112.64 L525.29,112.88 L526.05,113.12 L526.82,113.36 L527.58,113.59 L528.35,113.81 L529.11,114.03 L529.88,114.25 L530.65,114.46 L531.42,114.67 L532.19,114.87 L532.96,115.07 L533.74,115.26 L534.51,115.45 L535.29,115.63 L536.06,115.81 L536.84,115.98 L537.62,116.14 L538.41,116.30 L539.19,116.45 L539.98,116.60 L540.76,116.74 L541.55,116.87 L542.34,117.00 L543.13,117.12 L543.92,117.23 L544.72,117.34 L545.51,117.44 L546.31,117.53 L547.11,117.62 L547.91,117.70 L548.71,117.78 L549.51,117.85 L550.32,117.92 L551.12,117.99 L551.92,118.06 L552.73,118.12 L553.53,118.19 L554.33,118.26 L555.14,118.32 L555.94,118.39 L556.74,118.47 L557.54,118.54 L558.34,118.62 L559.14,118.71 L559.94,118.80 L560.74,118.90 L561.53,119.00 L562.32,119.11 L563.11,119.23 L563.90,119.36 L564.69,119.50 L565.47,119.65 L566.25,119.81 L567.03,119.98 L567.81,120.17 L568.58,120.37 L569.34,120.58 L570.11,120.81 L570.87,121.05 L571.63,121.31 L572.38,121.58 L573.13,121.87 L573.87,122.18 L574.61,122.50 L575.35,122.84 L576.08,123.18 L576.80,123.54 L577.52,123.91 L578.23,124.29 L578.94,124.69 L579.65,125.09 L580.34,125.50 L581.04,125.92 L581.72,126.34 L582.40,126.77 L583.07,127.21 L583.74,127.65 L584.40,128.10 L592.00,129.20 H627.10 V140.60" fill="none" stroke="#C77CFF" stroke-width="2.7" stroke-linejoin="round"/>
<text x="409.60" y="171.17" font-size="7.70" text-anchor="start" font-weight="bold" font-style="normal" fill="#000">Number at risk (number of events)</text>
<text transform="translate(360.10,186.30) rotate(-90)" x="0" y="0" font-size="6.10" text-anchor="middle" font-weight="bold" font-style="normal" fill="#000" textLength="16.0" lengthAdjust="spacingAndGlyphs">Strata</text>
<line x1="409.10" y1="174.00" x2="409.10" y2="198.85" stroke="#8a8a8a" stroke-width="1.1"/>
<line x1="408.55" y1="198.30" x2="627.00" y2="198.30" stroke="#8a8a8a" stroke-width="1.1"/>
<text x="367.60" y="179.83" font-size="4.80" text-anchor="start" font-weight="normal" font-style="normal" fill="#F8766D" textLength="40.2" lengthAdjust="spacingAndGlyphs">group=Female High</text>
<line x1="407.60" y1="178.10" x2="409.10" y2="178.10" stroke="#8a8a8a" stroke-width="0.6"/>
<text x="419.40" y="180.01" font-size="5.30" text-anchor="middle" font-weight="normal" font-style="normal" fill="#111">476 (0)</text>
<text x="459.12" y="180.01" font-size="5.30" text-anchor="middle" font-weight="normal" font-style="normal" fill="#111">171 (299)</text>
<text x="498.84" y="180.01" font-size="5.30" text-anchor="middle" font-weight="normal" font-style="normal" fill="#111">69 (363)</text>
<text x="538.56" y="180.01" font-size="5.30" text-anchor="middle" font-weight="normal" font-style="normal" fill="#111">24 (376)</text>
<text x="578.28" y="180.01" font-size="5.30" text-anchor="middle" font-weight="normal" font-style="normal" fill="#111">5 (380)</text>
<text x="618.00" y="180.01" font-size="5.30" text-anchor="middle" font-weight="normal" font-style="normal" fill="#111">1 (380)</text>
<text x="362.30" y="185.63" font-size="4.80" text-anchor="start" font-weight="normal" font-style="normal" fill="#7CAE00" textLength="45.5" lengthAdjust="spacingAndGlyphs">group=Female Normal</text>
<line x1="407.60" y1="183.90" x2="409.10" y2="183.90" stroke="#8a8a8a" stroke-width="0.6"/>
<text x="419.40" y="185.81" font-size="5.30" text-anchor="middle" font-weight="normal" font-style="normal" fill="#111">919 (0)</text>
<text x="459.12" y="185.81" font-size="5.30" text-anchor="middle" font-weight="normal" font-style="normal" fill="#111">552 (335)</text>
<text x="498.84" y="185.81" font-size="5.30" text-anchor="middle" font-weight="normal" font-style="normal" fill="#111">266 (476)</text>
<text x="538.56" y="185.81" font-size="5.30" text-anchor="middle" font-weight="normal" font-style="normal" fill="#111">89 (530)</text>
<text x="578.28" y="185.81" font-size="5.30" text-anchor="middle" font-weight="normal" font-style="normal" fill="#111">23 (544)</text>
<text x="618.00" y="185.81" font-size="5.30" text-anchor="middle" font-weight="normal" font-style="normal" fill="#111">1 (547)</text>
<text x="373.40" y="191.13" font-size="4.80" text-anchor="start" font-weight="normal" font-style="normal" fill="#00BFC4" textLength="34.4" lengthAdjust="spacingAndGlyphs">group=Male High</text>
<line x1="407.60" y1="189.40" x2="409.10" y2="189.40" stroke="#8a8a8a" stroke-width="0.6"/>
<text x="419.40" y="191.31" font-size="5.30" text-anchor="middle" font-weight="normal" font-style="normal" fill="#111">886 (0)</text>
<text x="459.12" y="191.31" font-size="5.30" text-anchor="middle" font-weight="normal" font-style="normal" fill="#111">354 (510)</text>
<text x="498.84" y="191.31" font-size="5.30" text-anchor="middle" font-weight="normal" font-style="normal" fill="#111">142 (662)</text>
<text x="538.56" y="191.31" font-size="5.30" text-anchor="middle" font-weight="normal" font-style="normal" fill="#111">47 (706)</text>
<text x="578.28" y="191.31" font-size="5.30" text-anchor="middle" font-weight="normal" font-style="normal" fill="#111">6 (715)</text>
<text x="618.00" y="191.31" font-size="5.30" text-anchor="middle" font-weight="normal" font-style="normal" fill="#111">1 (718)</text>
<text x="368.10" y="196.93" font-size="4.80" text-anchor="start" font-weight="normal" font-style="normal" fill="#C77CFF" textLength="39.7" lengthAdjust="spacingAndGlyphs">group=Male Normal</text>
<line x1="407.60" y1="195.20" x2="409.10" y2="195.20" stroke="#8a8a8a" stroke-width="0.6"/>
<text x="419.40" y="197.11" font-size="5.30" text-anchor="middle" font-weight="normal" font-style="normal" fill="#111">1165 (0)</text>
<text x="459.12" y="197.11" font-size="5.30" text-anchor="middle" font-weight="normal" font-style="normal" fill="#111">664 (457)</text>
<text x="498.84" y="197.11" font-size="5.30" text-anchor="middle" font-weight="normal" font-style="normal" fill="#111">299 (674)</text>
<text x="538.56" y="197.11" font-size="5.30" text-anchor="middle" font-weight="normal" font-style="normal" fill="#111">107 (755)</text>
<text x="578.28" y="197.11" font-size="5.30" text-anchor="middle" font-weight="normal" font-style="normal" fill="#111">27 (777)</text>
<text x="618.00" y="197.11" font-size="5.30" text-anchor="middle" font-weight="normal" font-style="normal" fill="#111">4 (784)</text>
<line x1="419.40" y1="198.30" x2="419.40" y2="199.80" stroke="#8a8a8a" stroke-width="0.6"/>
<text x="419.40" y="204.66" font-size="4.60" text-anchor="middle" font-weight="normal" font-style="normal" fill="#000">0</text>
<line x1="459.12" y1="198.30" x2="459.12" y2="199.80" stroke="#8a8a8a" stroke-width="0.6"/>
<text x="459.12" y="204.66" font-size="4.60" text-anchor="middle" font-weight="normal" font-style="normal" fill="#000">60</text>
<line x1="498.84" y1="198.30" x2="498.84" y2="199.80" stroke="#8a8a8a" stroke-width="0.6"/>
<text x="498.84" y="204.66" font-size="4.60" text-anchor="middle" font-weight="normal" font-style="normal" fill="#000">120</text>
<line x1="538.56" y1="198.30" x2="538.56" y2="199.80" stroke="#8a8a8a" stroke-width="0.6"/>
<text x="538.56" y="204.66" font-size="4.60" text-anchor="middle" font-weight="normal" font-style="normal" fill="#000">180</text>
<line x1="578.28" y1="198.30" x2="578.28" y2="199.80" stroke="#8a8a8a" stroke-width="0.6"/>
<text x="578.28" y="204.66" font-size="4.60" text-anchor="middle" font-weight="normal" font-style="normal" fill="#000">240</text>
<line x1="618.00" y1="198.30" x2="618.00" y2="199.80" stroke="#8a8a8a" stroke-width="0.6"/>
<text x="618.00" y="204.66" font-size="4.60" text-anchor="middle" font-weight="normal" font-style="normal" fill="#000">300</text>
<text x="520.00" y="211.33" font-size="7.30" text-anchor="middle" font-weight="bold" font-style="italic" fill="#000">Time (Months)</text>
<text x="17.00" y="230.38" font-size="14.40" text-anchor="start" font-weight="normal" font-style="normal" fill="#111">C</text>
<text x="64.00" y="226.55" font-size="8.20" text-anchor="start" font-weight="bold" font-style="normal" fill="#000">PFS</text>
<text x="34.60" y="240.34" font-size="6.50" text-anchor="start" font-weight="normal" font-style="normal" fill="#111">Strata</text>
<path d="M55.80,233.50 H63.30" stroke="#F8766D" stroke-width="1.5" fill="none"/>
<path d="M57.95,233.80 L59.55,231.25 L61.15,233.80 Z" fill="#F8766D"/>
<text x="67.00" y="235.82" font-size="6.45" text-anchor="start" font-weight="normal" font-style="normal" fill="#111">group=African High</text>
<path d="M55.80,242.50 H63.30" stroke="#B79F00" stroke-width="1.5" fill="none"/>
<path d="M57.95,242.80 L59.55,240.25 L61.15,242.80 Z" fill="#B79F00"/>
<text x="67.00" y="244.82" font-size="6.45" text-anchor="start" font-weight="normal" font-style="normal" fill="#111">group=African Normal</text>
<path d="M133.00,233.50 H140.70" stroke="#00BA38" stroke-width="1.5" fill="none"/>
<path d="M135.25,233.80 L136.85,231.19 L138.45,233.80 Z" fill="#00BA38"/>
<text x="144.40" y="235.82" font-size="6.45" text-anchor="start" font-weight="normal" font-style="normal" fill="#111">group=Others High</text>
<path d="M133.00,242.50 H140.70" stroke="#00BFC4" stroke-width="1.5" fill="none"/>
<path d="M135.25,242.80 L136.85,240.19 L138.45,242.80 Z" fill="#00BFC4"/>
<text x="144.40" y="244.82" font-size="6.45" text-anchor="start" font-weight="normal" font-style="normal" fill="#111">group=Others Normal</text>
<path d="M209.00,233.50 H216.50" stroke="#619CFF" stroke-width="1.5" fill="none"/>
<path d="M211.15,233.80 L212.75,231.25 L214.35,233.80 Z" fill="#619CFF"/>
<text x="219.80" y="235.82" font-size="6.45" text-anchor="start" font-weight="normal" font-style="normal" fill="#111">group=White/Caucasian High</text>
<path d="M209.00,242.50 H216.50" stroke="#F564E3" stroke-width="1.5" fill="none"/>
<path d="M211.15,242.80 L212.75,240.25 L214.35,242.80 Z" fill="#F564E3"/>
<text x="219.80" y="244.82" font-size="6.45" text-anchor="start" font-weight="normal" font-style="normal" fill="#111">group=White/Caucasian Normal</text>
<line x1="63.60" y1="249.30" x2="63.60" y2="353.75" stroke="#8a8a8a" stroke-width="1.1"/>
<line x1="63.05" y1="353.20" x2="250.70" y2="353.20" stroke="#8a8a8a" stroke-width="1.1"/>
<line x1="61.60" y1="254.20" x2="63.60" y2="254.20" stroke="#555" stroke-width="0.8"/>
<text x="62.10" y="256.25" font-size="5.70" text-anchor="end" font-weight="normal" font-style="normal" fill="#222" textLength="10.1" lengthAdjust="spacingAndGlyphs">1.00</text>
<line x1="61.60" y1="277.80" x2="63.60" y2="277.80" stroke="#555" stroke-width="0.8"/>
<text x="62.10" y="279.85" font-size="5.70" text-anchor="end" font-weight="normal" font-style="normal" fill="#222" textLength="10.1" lengthAdjust="spacingAndGlyphs">0.75</text>
<line x1="61.60" y1="301.40" x2="63.60" y2="301.40" stroke="#555" stroke-width="0.8"/>
<text x="62.10" y="303.45" font-size="5.70" text-anchor="end" font-weight="normal" font-style="normal" fill="#222" textLength="10.1" lengthAdjust="spacingAndGlyphs">0.50</text>
<line x1="61.60" y1="325.00" x2="63.60" y2="325.00" stroke="#555" stroke-width="0.8"/>
<text x="62.10" y="327.05" font-size="5.70" text-anchor="end" font-weight="normal" font-style="normal" fill="#222" textLength="10.1" lengthAdjust="spacingAndGlyphs">0.25</text>
<line x1="61.60" y1="348.60" x2="63.60" y2="348.60" stroke="#555" stroke-width="0.8"/>
<text x="62.10" y="350.65" font-size="5.70" text-anchor="end" font-weight="normal" font-style="normal" fill="#222" textLength="10.1" lengthAdjust="spacingAndGlyphs">0.00</text>
<line x1="72.40" y1="353.20" x2="72.40" y2="355.20" stroke="#555" stroke-width="0.8"/>
<text x="72.40" y="359.12" font-size="5.90" text-anchor="middle" font-weight="normal" font-style="normal" fill="#000">0</text>
<line x1="106.24" y1="353.20" x2="106.24" y2="355.20" stroke="#555" stroke-width="0.8"/>
<text x="106.24" y="359.12" font-size="5.90" text-anchor="middle" font-weight="normal" font-style="normal" fill="#000">60</text>
<line x1="140.08" y1="353.20" x2="140.08" y2="355.20" stroke="#555" stroke-width="0.8"/>
<text x="140.08" y="359.12" font-size="5.90" text-anchor="middle" font-weight="normal" font-style="normal" fill="#000">120</text>
<line x1="173.92" y1="353.20" x2="173.92" y2="355.20" stroke="#555" stroke-width="0.8"/>
<text x="173.92" y="359.12" font-size="5.90" text-anchor="middle" font-weight="normal" font-style="normal" fill="#000">180</text>
<line x1="207.76" y1="353.20" x2="207.76" y2="355.20" stroke="#555" stroke-width="0.8"/>
<text x="207.76" y="359.12" font-size="5.90" text-anchor="middle" font-weight="normal" font-style="normal" fill="#000">240</text>
<line x1="241.60" y1="353.20" x2="241.60" y2="355.20" stroke="#555" stroke-width="0.8"/>
<text x="241.60" y="359.12" font-size="5.90" text-anchor="middle" font-weight="normal" font-style="normal" fill="#000">300</text>
<text transform="translate(5.82,301.30) rotate(-90)" x="0" y="0" font-size="5.90" text-anchor="middle" font-weight="bold" font-style="italic" fill="#000">Survival probability</text>
<text x="157.60" y="365.04" font-size="5.95" text-anchor="middle" font-weight="bold" font-style="italic" fill="#000">Time (Months)</text>
<text x="180.00" y="258.01" font-size="7.80" text-anchor="start" font-weight="normal" font-style="normal" fill="#000">Group</text>
<text x="250.00" y="258.01" font-size="7.80" text-anchor="middle" font-weight="normal" font-style="normal" fill="#000">HR</text>
<text x="288.80" y="258.01" font-size="7.80" text-anchor="middle" font-weight="normal" font-style="normal" fill="#000">95%CI</text>
<text x="326.20" y="258.01" font-size="7.80" text-anchor="middle" font-weight="normal" font-style="normal" fill="#000">P</text>
<text x="180.00" y="267.71" font-size="7.80" text-anchor="start" font-weight="normal" font-style="normal" fill="#000">African normal</text>
<text x="250.00" y="267.71" font-size="7.80" text-anchor="middle" font-weight="normal" font-style="normal" fill="#000">reference</text>
<text x="180.00" y="277.71" font-size="7.80" text-anchor="start" font-weight="normal" font-style="normal" fill="#000">African high</text>
<text x="250.00" y="277.71" font-size="7.80" text-anchor="middle" font-weight="normal" font-style="normal" fill="#000">1.74</text>
<text x="288.80" y="277.71" font-size="7.80" text-anchor="middle" font-weight="normal" font-style="normal" fill="#000">[1.37, 2.20]</text>
<text x="326.20" y="277.71" font-size="7.80" text-anchor="middle" font-weight="normal" font-style="normal" fill="#000">&lt;0.0001</text>
<text x="180.00" y="287.91" font-size="7.80" text-anchor="start" font-weight="normal" font-style="normal" fill="#000">White normal</text>
<text x="250.00" y="287.91" font-size="7.80" text-anchor="middle" font-weight="normal" font-style="normal" fill="#000">reference</text>
<text x="180.00" y="297.11" font-size="7.80" text-anchor="start" font-weight="normal" font-style="normal" fill="#000">White high</text>
<text x="250.00" y="297.11" font-size="7.80" text-anchor="middle" font-weight="normal" font-style="normal" fill="#000">1.73</text>
<text x="288.80" y="297.11" font-size="7.80" text-anchor="middle" font-weight="normal" font-style="normal" fill="#000">[1.58,1.88]</text>
<text x="326.20" y="297.11" font-size="7.80" text-anchor="middle" font-weight="normal" font-style="normal" fill="#000">&lt;0.0001</text>
<text x="180.00" y="307.31" font-size="7.80" text-anchor="start" font-weight="normal" font-style="normal" fill="#000">Others normal</text>
<text x="250.00" y="307.31" font-size="7.80" text-anchor="middle" font-weight="normal" font-style="normal" fill="#000">reference</text>
<text x="180.00" y="316.81" font-size="7.80" text-anchor="start" font-weight="normal" font-style="normal" fill="#000">Others high</text>
<text x="250.00" y="316.81" font-size="7.80" text-anchor="middle" font-weight="normal" font-style="normal" fill="#000">2.51</text>
<text x="288.80" y="316.81" font-size="7.80" text-anchor="middle" font-weight="normal" font-style="normal" fill="#000">[0.97, 6.50]</text>
<text x="326.20" y="316.81" font-size="7.80" text-anchor="middle" font-weight="normal" font-style="normal" fill="#000">0.0576</text>
<line x1="95.24" y1="301.40" x2="95.24" y2="348.60" stroke="#444" stroke-width="0.75" stroke-dasharray="1.4,1.8"/>
<line x1="102.86" y1="301.40" x2="102.86" y2="348.60" stroke="#444" stroke-width="0.75" stroke-dasharray="1.4,1.8"/>
<line x1="120.34" y1="301.40" x2="120.34" y2="348.60" stroke="#444" stroke-width="0.75" stroke-dasharray="1.4,1.8"/>
<line x1="124.85" y1="301.40" x2="124.85" y2="348.60" stroke="#444" stroke-width="0.75" stroke-dasharray="1.4,1.8"/>
<line x1="72.40" y1="301.40" x2="124.85" y2="301.40" stroke="#444" stroke-width="0.75" stroke-dasharray="1.4,1.8"/>
<path d="M72.90,254.00 L73.23,254.73 L73.54,255.46 L73.85,256.20 L74.16,256.94 L74.45,257.69 L74.75,258.44 L75.03,259.19 L75.32,259.94 L75.60,260.70 L75.88,261.45 L76.16,262.21 L76.43,262.97 L76.71,263.72 L76.99,264.48 L77.27,265.23 L77.56,265.99 L77.84,266.74 L78.14,267.49 L78.43,268.24 L78.74,268.98 L79.05,269.72 L79.36,270.45 L79.69,271.18 L80.02,271.91 L80.37,272.63 L80.72,273.34 L81.09,274.05 L81.47,274.75 L81.86,275.45 L82.26,276.13 L82.67,276.82 L83.09,277.50 L83.51,278.18 L83.93,278.85 L84.35,279.53 L84.77,280.21 L85.19,280.90 L85.59,281.59 L85.99,282.28 L86.38,282.98 L86.75,283.69 L87.12,284.41 L87.48,285.13 L87.83,285.85 L88.18,286.58 L88.53,287.31 L88.87,288.04 L89.22,288.77 L89.56,289.50 L89.91,290.24 L90.26,290.97 L90.62,291.69 L90.98,292.42 L91.34,293.14 L91.72,293.86 L92.10,294.57 L92.49,295.28 L92.88,295.98 L93.29,296.67 L93.71,297.36 L94.13,298.04 L94.57,298.71 L95.01,299.37 L95.47,300.02 L95.93,300.66 L96.41,301.29 L96.90,301.91 L97.41,302.51 L97.92,303.10 L98.45,303.68 L99.00,304.24 L99.56,304.79 L100.13,305.33 L100.72,305.84 L101.32,306.34 L101.94,306.83 L102.57,307.29 L103.23,307.74 L103.89,308.17 L104.57,308.58 L105.26,308.99 L105.96,309.38 L106.68,309.76 L107.40,310.12 L108.13,310.48 L108.87,310.83 L109.61,311.18 L110.36,311.51 L111.11,311.85 L111.86,312.18 L112.62,312.51 L113.38,312.83 L114.13,313.16 L114.89,313.49 L115.64,313.82 L116.39,314.15 L117.13,314.49 L117.87,314.83 L118.60,315.18 L119.33,315.54 L120.04,315.90 L120.76,316.27 L121.47,316.64 L122.17,317.00 L122.88,317.37 L123.58,317.74 L124.29,318.10 L124.99,318.46 L125.70,318.81 L126.41,319.15 L127.12,319.49 L127.84,319.81 L128.56,320.12 L129.29,320.42 L130.03,320.70 L130.78,320.96 L131.53,321.21 L132.30,321.44 L133.07,321.65 L133.85,321.86 L134.63,322.06 L135.42,322.26 L136.20,322.46 L136.98,322.67 L137.76,322.89 L138.52,323.13 L139.29,323.38 L140.04,323.64 L140.80,323.92 L141.54,324.21 L142.29,324.51 L143.02,324.81 L143.76,325.13 L144.50,325.45 L145.23,325.77 L145.96,326.10 L146.69,326.43 L147.42,326.76 L148.15,327.10 L148.88,327.43 L149.61,327.76 L150.34,328.08 L151.08,328.40 L151.82,328.71 L152.56,329.02 L153.31,329.33 L154.05,329.62 L154.80,329.91 L155.56,330.20 L156.31,330.48 L157.07,330.75 L157.83,331.02 L158.59,331.28 L159.35,331.54 L160.11,331.79 L160.88,332.03 L161.65,332.27 L162.42,332.50 L163.20,332.72 L163.97,332.94 L164.75,333.15 L165.53,333.35 L166.30,333.55 L167.09,333.74 L167.87,333.92 L168.65,334.10 L169.44,334.26 L170.23,334.43 L171.02,334.58 L171.81,334.73 L172.60,334.87 L173.39,335.00 L174.18,335.12 L174.98,335.24 L175.77,335.35 L176.57,335.45 L177.36,335.55 L178.16,335.63 L178.96,335.71 L179.76,335.78 L180.56,335.84 L181.36,335.90 L182.16,335.94 L182.96,335.98 L183.76,336.01 L184.57,336.03 L185.37,336.04 L186.17,336.04 L186.97,336.04 L187.78,336.03 L188.58,336.00 L189.38,335.97 L190.19,335.93 L190.99,335.88 L191.79,335.82 L192.59,335.76 L193.40,335.68 L194.20,335.60 L195.00,335.50 H212.10" fill="none" stroke="#F8766D" stroke-width="1.2" stroke-linejoin="round"/>
<path d="M72.90,254.00 L73.39,254.62 L73.89,255.25 L74.39,255.87 L74.89,256.49 L75.39,257.10 L75.89,257.72 L76.40,258.34 L76.91,258.95 L77.42,259.56 L77.94,260.17 L78.46,260.78 L78.98,261.39 L79.50,262.00 L80.02,262.60 L80.55,263.21 L81.08,263.81 L81.61,264.41 L82.15,265.01 L82.68,265.60 L83.22,266.20 L83.76,266.79 L84.31,267.38 L84.86,267.97 L85.40,268.56 L85.96,269.14 L86.51,269.72 L87.07,270.31 L87.62,270.89 L88.18,271.46 L88.75,272.04 L89.31,272.61 L89.88,273.18 L90.45,273.75 L91.02,274.32 L91.60,274.88 L92.18,275.44 L92.76,276.00 L93.34,276.56 L93.92,277.11 L94.51,277.67 L95.10,278.22 L95.69,278.76 L96.28,279.31 L96.88,279.85 L97.48,280.39 L98.08,280.93 L98.68,281.46 L99.29,281.99 L99.89,282.52 L100.50,283.05 L101.11,283.57 L101.73,284.09 L102.34,284.61 L102.96,285.13 L103.58,285.64 L104.21,286.15 L104.83,286.66 L105.46,287.16 L106.09,287.66 L106.72,288.16 L107.36,288.65 L107.99,289.14 L108.63,289.63 L109.27,290.12 L109.92,290.60 L110.56,291.08 L111.21,291.55 L111.86,292.03 L112.51,292.49 L113.17,292.96 L113.82,293.42 L114.48,293.88 L115.14,294.34 L115.81,294.79 L116.47,295.24 L117.14,295.68 L117.81,296.12 L118.48,296.56 L119.15,296.99 L119.83,297.42 L120.51,297.85 L121.19,298.27 L121.87,298.69 L122.55,299.11 L123.24,299.52 L123.93,299.93 L124.62,300.33 L125.31,300.73 L126.01,301.13 L126.71,301.52 L127.40,301.91 L128.11,302.29 L128.81,302.67 L129.51,303.05 L130.22,303.42 L130.93,303.79 L131.64,304.15 L132.36,304.51 L133.07,304.87 L133.79,305.22 L134.51,305.57 L135.23,305.92 L135.95,306.26 L136.68,306.60 L137.40,306.93 L138.13,307.26 L138.86,307.59 L139.60,307.91 L140.33,308.23 L141.07,308.54 L141.80,308.85 L142.54,309.16 L143.28,309.46 L144.03,309.76 L144.77,310.06 L145.52,310.35 L146.27,310.64 L147.02,310.92 L147.77,311.20 L148.52,311.48 L149.28,311.75 L150.03,312.02 L150.79,312.28 L151.55,312.55 L152.31,312.80 L153.08,313.06 L153.84,313.31 L154.61,313.55 L155.38,313.80 L156.15,314.03 L156.92,314.27 L157.69,314.50 L158.46,314.73 L159.24,314.95 L160.01,315.18 L160.79,315.40 L161.56,315.63 L162.34,315.86 L163.11,316.09 L163.88,316.32 L164.65,316.56 L165.41,316.80 L166.18,317.05 L166.94,317.31 L167.70,317.58 L168.45,317.85 L169.20,318.14 L169.95,318.43 L170.69,318.74 L171.42,319.06 L172.15,319.40 L172.87,319.75 L173.59,320.12 L174.30,320.50 L175.00,320.90 H192.20 V323.00 H196.20 V325.00 H209.50 V334.20 H222.80" fill="none" stroke="#B79F00" stroke-width="1.5" stroke-linejoin="round"/>
<path d="M72.90,254.00 L77.20,260.40 V277.50 H89.60 V296.50 H96.50 V301.70 H109.30 V305.40 H110.90 V312.60 H114.10 V320.00 H167.30 V327.10 H175.60" fill="none" stroke="#00BA38" stroke-width="1.2" stroke-linejoin="round"/>
<path d="M72.90,254.00 H77.20 V259.60 H88.90 V266.00 H91.30 V272.10 H107.70 V279.40 H118.60 V288.20 H138.50 V300.10 H175.60" fill="none" stroke="#00BFC4" stroke-width="1.2" stroke-linejoin="round"/>
<path d="M72.90,254.00 L73.17,254.74 L73.44,255.49 L73.71,256.23 L73.98,256.98 L74.25,257.72 L74.53,258.47 L74.81,259.22 L75.08,259.97 L75.37,260.72 L75.65,261.47 L75.93,262.22 L76.22,262.97 L76.51,263.72 L76.80,264.47 L77.09,265.22 L77.39,265.97 L77.69,266.71 L77.99,267.46 L78.30,268.21 L78.60,268.96 L78.91,269.70 L79.23,270.45 L79.54,271.19 L79.86,271.94 L80.19,272.68 L80.51,273.42 L80.84,274.16 L81.17,274.89 L81.51,275.63 L81.85,276.36 L82.19,277.09 L82.54,277.82 L82.89,278.55 L83.25,279.27 L83.61,280.00 L83.97,280.72 L84.34,281.43 L84.72,282.15 L85.09,282.86 L85.48,283.57 L85.86,284.28 L86.25,284.98 L86.65,285.68 L87.05,286.37 L87.46,287.07 L87.87,287.76 L88.28,288.44 L88.70,289.12 L89.13,289.80 L89.56,290.47 L90.00,291.14 L90.44,291.81 L90.89,292.47 L91.35,293.13 L91.81,293.78 L92.27,294.43 L92.74,295.07 L93.22,295.71 L93.71,296.34 L94.20,296.97 L94.69,297.59 L95.19,298.21 L95.70,298.82 L96.21,299.43 L96.73,300.03 L97.25,300.63 L97.78,301.22 L98.31,301.81 L98.85,302.39 L99.40,302.97 L99.95,303.55 L100.50,304.11 L101.06,304.68 L101.63,305.23 L102.19,305.78 L102.77,306.33 L103.35,306.87 L103.93,307.41 L104.52,307.94 L105.12,308.47 L105.71,308.99 L106.32,309.50 L106.92,310.01 L107.54,310.51 L108.15,311.01 L108.77,311.51 L109.40,311.99 L110.03,312.47 L110.66,312.95 L111.30,313.42 L111.94,313.89 L112.58,314.35 L113.23,314.80 L113.89,315.25 L114.54,315.69 L115.20,316.13 L115.87,316.56 L116.54,316.98 L117.21,317.40 L117.88,317.81 L118.56,318.22 L119.24,318.62 L119.93,319.02 L120.62,319.41 L121.31,319.79 L122.01,320.17 L122.71,320.54 L123.41,320.90 L124.11,321.26 L124.82,321.62 L125.53,321.96 L126.24,322.30 L126.96,322.64 L127.68,322.97 L128.40,323.29 L129.13,323.61 L129.85,323.92 L130.58,324.22 L131.32,324.52 L132.05,324.82 L132.79,325.11 L133.53,325.39 L134.27,325.67 L135.02,325.94 L135.76,326.21 L136.51,326.47 L137.27,326.73 L138.02,326.99 L138.78,327.23 L139.53,327.48 L140.29,327.72 L141.06,327.95 L141.82,328.18 L142.59,328.41 L143.35,328.63 L144.12,328.85 L144.89,329.06 L145.67,329.27 L146.44,329.47 L147.22,329.67 L148.00,329.87 L148.77,330.06 L149.56,330.25 L150.34,330.44 L151.12,330.62 L151.91,330.80 L152.69,330.98 L153.48,331.15 L154.27,331.32 L155.06,331.49 L155.85,331.65 L156.64,331.81 L157.44,331.97 L158.23,332.12 L159.03,332.27 L159.82,332.42 L160.62,332.57 L161.42,332.71 L162.21,332.85 L163.01,332.99 L163.81,333.13 L164.61,333.26 L165.42,333.39 L166.22,333.52 L167.02,333.65 L167.82,333.78 L168.63,333.90 L169.43,334.03 L170.23,334.15 L171.04,334.27 L171.84,334.39 L172.64,334.50 L173.45,334.62 L174.25,334.73 L175.06,334.84 L175.86,334.96 L176.67,335.07 L177.47,335.18 L178.28,335.29 L179.08,335.39 L179.88,335.50 L180.69,335.61 L181.49,335.72 L182.29,335.82 L183.10,335.93 L183.90,336.03 L184.70,336.14 L185.50,336.24 L186.30,336.35 L187.10,336.45 L187.90,336.56 L188.70,336.66 L189.50,336.77 L190.29,336.87 L191.09,336.98 L191.88,337.08 L192.68,337.19 L193.47,337.29 L194.27,337.40 L195.06,337.51 L195.85,337.61 L196.64,337.72 L197.43,337.82 L198.23,337.93 L199.02,338.03 L199.81,338.13 L200.60,338.23 L201.39,338.34 L202.18,338.44 L202.97,338.54 L203.75,338.64 L204.54,338.73 L205.33,338.83 L206.12,338.93 L206.91,339.02 L207.70,339.11 L208.49,339.21 L209.28,339.30 L210.07,339.38 L210.86,339.47 L211.65,339.56 L212.44,339.64 L213.23,339.72 L214.02,339.80 L214.82,339.88 L215.61,339.96 L216.40,340.03 L217.20,340.10 L217.99,340.17 L218.78,340.24 L219.58,340.31 L220.38,340.37 L221.17,340.43 L221.97,340.49 L222.77,340.54 L223.57,340.59 L224.37,340.64 L225.17,340.69 L225.97,340.73 L226.78,340.77 L227.58,340.81 L228.39,340.84 L229.19,340.87 L230.00,340.90 H232.00 V341.90 H236.10 V342.90 H242.20 V346.50 H247.80 V348.00" fill="none" stroke="#619CFF" stroke-width="2.0" stroke-linejoin="round"/>
<path d="M72.90,254.00 L73.36,254.67 L73.82,255.34 L74.28,256.01 L74.75,256.67 L75.22,257.33 L75.69,257.99 L76.17,258.65 L76.65,259.30 L77.13,259.95 L77.62,260.60 L78.11,261.24 L78.60,261.88 L79.10,262.52 L79.60,263.15 L80.10,263.78 L80.61,264.41 L81.12,265.04 L81.63,265.66 L82.14,266.28 L82.66,266.90 L83.18,267.51 L83.71,268.13 L84.23,268.73 L84.76,269.34 L85.30,269.94 L85.83,270.54 L86.37,271.14 L86.91,271.73 L87.46,272.32 L88.01,272.91 L88.56,273.50 L89.11,274.08 L89.67,274.66 L90.23,275.23 L90.79,275.80 L91.35,276.37 L91.92,276.94 L92.49,277.50 L93.06,278.07 L93.64,278.62 L94.22,279.18 L94.80,279.73 L95.38,280.28 L95.97,280.82 L96.55,281.37 L97.15,281.91 L97.74,282.44 L98.34,282.98 L98.94,283.51 L99.54,284.03 L100.14,284.56 L100.75,285.08 L101.36,285.60 L101.97,286.11 L102.59,286.63 L103.20,287.13 L103.82,287.64 L104.44,288.14 L105.07,288.64 L105.69,289.14 L106.32,289.63 L106.95,290.12 L107.59,290.61 L108.22,291.10 L108.86,291.58 L109.50,292.06 L110.15,292.53 L110.79,293.00 L111.44,293.47 L112.09,293.94 L112.74,294.40 L113.39,294.86 L114.05,295.32 L114.71,295.77 L115.37,296.22 L116.03,296.67 L116.70,297.11 L117.36,297.55 L118.03,297.99 L118.70,298.42 L119.38,298.86 L120.05,299.28 L120.73,299.71 L121.41,300.13 L122.09,300.55 L122.77,300.96 L123.46,301.38 L124.14,301.79 L124.83,302.19 L125.52,302.59 L126.22,302.99 L126.91,303.39 L127.61,303.78 L128.31,304.17 L129.01,304.56 L129.71,304.94 L130.41,305.32 L131.12,305.70 L131.82,306.07 L132.53,306.45 L133.24,306.81 L133.96,307.18 L134.67,307.54 L135.39,307.90 L136.10,308.25 L136.82,308.60 L137.54,308.95 L138.27,309.29 L138.99,309.64 L139.72,309.97 L140.44,310.31 L141.17,310.64 L141.90,310.97 L142.63,311.29 L143.37,311.62 L144.10,311.94 L144.84,312.25 L145.58,312.56 L146.31,312.87 L147.05,313.18 L147.80,313.48 L148.54,313.78 L149.28,314.08 L150.03,314.37 L150.78,314.66 L151.53,314.95 L152.28,315.23 L153.03,315.51 L153.78,315.79 L154.53,316.07 L155.29,316.34 L156.04,316.61 L156.80,316.88 L157.56,317.15 L158.31,317.41 L159.07,317.67 L159.83,317.93 L160.60,318.18 L161.36,318.43 L162.12,318.68 L162.89,318.93 L163.65,319.18 L164.42,319.42 L165.19,319.66 L165.96,319.90 L166.72,320.13 L167.49,320.37 L168.26,320.60 L169.04,320.83 L169.81,321.06 L170.58,321.28 L171.35,321.50 L172.13,321.73 L172.90,321.94 L173.68,322.16 L174.45,322.38 L175.23,322.59 L176.01,322.80 L176.79,323.01 L177.56,323.22 L178.34,323.43 L179.12,323.63 L179.90,323.84 L180.68,324.04 L181.46,324.24 L182.24,324.44 L183.02,324.64 L183.80,324.83 L184.59,325.03 L185.37,325.22 L186.15,325.41 L186.93,325.60 L187.71,325.79 L188.50,325.98 L189.28,326.17 L190.06,326.35 L190.85,326.54 L191.63,326.72 L192.41,326.90 L193.20,327.08 L193.98,327.26 L194.76,327.44 L195.55,327.62 L196.33,327.80 L197.11,327.98 L197.90,328.15 L198.68,328.33 L199.46,328.50 L200.25,328.67 L201.03,328.85 L201.81,329.02 L202.60,329.19 L203.38,329.36 L204.16,329.53 L204.94,329.70 L205.73,329.86 L206.51,330.03 L207.29,330.20 L208.07,330.36 L208.86,330.53 L209.64,330.69 L210.42,330.85 L211.20,331.02 L211.98,331.18 L212.76,331.34 L213.54,331.50 L214.33,331.66 L215.11,331.82 L215.89,331.98 L216.67,332.13 L217.45,332.29 L218.23,332.45 L219.01,332.60 L219.79,332.76 L220.57,332.91 L221.35,333.07 L222.12,333.22 L222.90,333.37 L223.68,333.52 L224.46,333.67 L225.24,333.82 L226.01,333.97 L226.79,334.12 L227.57,334.27 L228.35,334.42 L229.12,334.57 L229.90,334.72 L230.67,334.86 L231.45,335.01 L232.23,335.15 L233.00,335.30 H250.40 V348.50" fill="none" stroke="#F564E3" stroke-width="2.4" stroke-linejoin="round"/>
<text x="64.00" y="375.18" font-size="6.60" text-anchor="start" font-weight="bold" font-style="normal" fill="#000">Number at risk (number of events)</text>
<text transform="translate(5.64,390.90) rotate(-90)" x="0" y="0" font-size="5.40" text-anchor="middle" font-weight="bold" font-style="normal" fill="#000" textLength="12.0" lengthAdjust="spacingAndGlyphs">Strata</text>
<line x1="63.30" y1="378.50" x2="63.30" y2="404.05" stroke="#8a8a8a" stroke-width="1.1"/>
<line x1="62.75" y1="403.50" x2="250.70" y2="403.50" stroke="#8a8a8a" stroke-width="1.1"/>
<text x="28.80" y="382.69" font-size="4.70" text-anchor="start" font-weight="normal" font-style="normal" fill="#F8766D" textLength="33.5" lengthAdjust="spacingAndGlyphs">group=African High</text>
<line x1="61.80" y1="381.00" x2="63.30" y2="381.00" stroke="#8a8a8a" stroke-width="0.6"/>
<text x="72.40" y="382.76" font-size="4.90" text-anchor="middle" font-weight="normal" font-style="normal" fill="#111" textLength="13.6" lengthAdjust="spacingAndGlyphs">180 (0)</text>
<text x="106.24" y="382.76" font-size="4.90" text-anchor="middle" font-weight="normal" font-style="normal" fill="#111" textLength="16.0" lengthAdjust="spacingAndGlyphs">65 (108)</text>
<text x="140.08" y="382.76" font-size="4.90" text-anchor="middle" font-weight="normal" font-style="normal" fill="#111" textLength="16.0" lengthAdjust="spacingAndGlyphs">27 (128)</text>
<text x="173.92" y="382.76" font-size="4.90" text-anchor="middle" font-weight="normal" font-style="normal" fill="#111" textLength="13.6" lengthAdjust="spacingAndGlyphs">6 (139)</text>
<text x="207.76" y="382.76" font-size="4.90" text-anchor="middle" font-weight="normal" font-style="normal" fill="#111" textLength="13.6" lengthAdjust="spacingAndGlyphs">1 (139)</text>
<text x="241.60" y="382.76" font-size="4.90" text-anchor="middle" font-weight="normal" font-style="normal" fill="#111" textLength="13.6" lengthAdjust="spacingAndGlyphs">0 (139)</text>
<text x="24.40" y="386.89" font-size="4.70" text-anchor="start" font-weight="normal" font-style="normal" fill="#B79F00" textLength="37.9" lengthAdjust="spacingAndGlyphs">group=African Normal</text>
<line x1="61.80" y1="385.20" x2="63.30" y2="385.20" stroke="#8a8a8a" stroke-width="0.6"/>
<text x="72.40" y="386.96" font-size="4.90" text-anchor="middle" font-weight="normal" font-style="normal" fill="#111" textLength="13.6" lengthAdjust="spacingAndGlyphs">230 (0)</text>
<text x="106.24" y="386.96" font-size="4.90" text-anchor="middle" font-weight="normal" font-style="normal" fill="#111" textLength="16.0" lengthAdjust="spacingAndGlyphs">135 (69)</text>
<text x="140.08" y="386.96" font-size="4.90" text-anchor="middle" font-weight="normal" font-style="normal" fill="#111" textLength="16.0" lengthAdjust="spacingAndGlyphs">61 (125)</text>
<text x="173.92" y="386.96" font-size="4.90" text-anchor="middle" font-weight="normal" font-style="normal" fill="#111" textLength="16.0" lengthAdjust="spacingAndGlyphs">22 (136)</text>
<text x="207.76" y="386.96" font-size="4.90" text-anchor="middle" font-weight="normal" font-style="normal" fill="#111" textLength="13.6" lengthAdjust="spacingAndGlyphs">5 (139)</text>
<text x="241.60" y="386.96" font-size="4.90" text-anchor="middle" font-weight="normal" font-style="normal" fill="#111" textLength="13.6" lengthAdjust="spacingAndGlyphs">0 (141)</text>
<text x="30.10" y="390.89" font-size="4.70" text-anchor="start" font-weight="normal" font-style="normal" fill="#00BA38" textLength="32.2" lengthAdjust="spacingAndGlyphs">group=Others High</text>
<line x1="61.80" y1="389.20" x2="63.30" y2="389.20" stroke="#8a8a8a" stroke-width="0.6"/>
<text x="72.40" y="390.96" font-size="4.90" text-anchor="middle" font-weight="normal" font-style="normal" fill="#111" textLength="11.2" lengthAdjust="spacingAndGlyphs">20 (0)</text>
<text x="106.24" y="390.96" font-size="4.90" text-anchor="middle" font-weight="normal" font-style="normal" fill="#111" textLength="13.6" lengthAdjust="spacingAndGlyphs">10 (10)</text>
<text x="140.08" y="390.96" font-size="4.90" text-anchor="middle" font-weight="normal" font-style="normal" fill="#111" textLength="11.2" lengthAdjust="spacingAndGlyphs">4 (14)</text>
<text x="173.92" y="390.96" font-size="4.90" text-anchor="middle" font-weight="normal" font-style="normal" fill="#111" textLength="11.2" lengthAdjust="spacingAndGlyphs">2 (15)</text>
<text x="207.76" y="390.96" font-size="4.90" text-anchor="middle" font-weight="normal" font-style="normal" fill="#111" textLength="11.2" lengthAdjust="spacingAndGlyphs">0 (15)</text>
<text x="241.60" y="390.96" font-size="4.90" text-anchor="middle" font-weight="normal" font-style="normal" fill="#111" textLength="11.2" lengthAdjust="spacingAndGlyphs">0 (15)</text>
<text x="25.90" y="394.79" font-size="4.70" text-anchor="start" font-weight="normal" font-style="normal" fill="#00BFC4" textLength="36.4" lengthAdjust="spacingAndGlyphs">group=Others Normal</text>
<line x1="61.80" y1="393.10" x2="63.30" y2="393.10" stroke="#8a8a8a" stroke-width="0.6"/>
<text x="72.40" y="394.86" font-size="4.90" text-anchor="middle" font-weight="normal" font-style="normal" fill="#111" textLength="11.2" lengthAdjust="spacingAndGlyphs">16 (0)</text>
<text x="106.24" y="394.86" font-size="4.90" text-anchor="middle" font-weight="normal" font-style="normal" fill="#111" textLength="10.9" lengthAdjust="spacingAndGlyphs">11 (3)</text>
<text x="140.08" y="394.86" font-size="4.90" text-anchor="middle" font-weight="normal" font-style="normal" fill="#111" textLength="8.8" lengthAdjust="spacingAndGlyphs">4 (6)</text>
<text x="173.92" y="394.86" font-size="4.90" text-anchor="middle" font-weight="normal" font-style="normal" fill="#111" textLength="8.8" lengthAdjust="spacingAndGlyphs">2 (6)</text>
<text x="207.76" y="394.86" font-size="4.90" text-anchor="middle" font-weight="normal" font-style="normal" fill="#111" textLength="8.8" lengthAdjust="spacingAndGlyphs">0 (6)</text>
<text x="241.60" y="394.86" font-size="4.90" text-anchor="middle" font-weight="normal" font-style="normal" fill="#111" textLength="8.8" lengthAdjust="spacingAndGlyphs">0 (6)</text>
<text x="12.00" y="398.89" font-size="4.70" text-anchor="start" font-weight="normal" font-style="normal" fill="#619CFF" textLength="50.3" lengthAdjust="spacingAndGlyphs">group=White/Caucasian High</text>
<line x1="61.80" y1="397.20" x2="63.30" y2="397.20" stroke="#8a8a8a" stroke-width="0.6"/>
<text x="72.40" y="398.96" font-size="4.90" text-anchor="middle" font-weight="normal" font-style="normal" fill="#111" textLength="15.7" lengthAdjust="spacingAndGlyphs">1129 (0)</text>
<text x="106.24" y="398.96" font-size="4.90" text-anchor="middle" font-weight="normal" font-style="normal" fill="#111" textLength="18.4" lengthAdjust="spacingAndGlyphs">435 (670)</text>
<text x="140.08" y="398.96" font-size="4.90" text-anchor="middle" font-weight="normal" font-style="normal" fill="#111" textLength="18.4" lengthAdjust="spacingAndGlyphs">178 (856)</text>
<text x="173.92" y="398.96" font-size="4.90" text-anchor="middle" font-weight="normal" font-style="normal" fill="#111" textLength="16.0" lengthAdjust="spacingAndGlyphs">63 (901)</text>
<text x="207.76" y="398.96" font-size="4.90" text-anchor="middle" font-weight="normal" font-style="normal" fill="#111" textLength="16.0" lengthAdjust="spacingAndGlyphs">10 (914)</text>
<text x="241.60" y="398.96" font-size="4.90" text-anchor="middle" font-weight="normal" font-style="normal" fill="#111" textLength="13.6" lengthAdjust="spacingAndGlyphs">2 (917)</text>
<text x="7.30" y="403.09" font-size="4.70" text-anchor="start" font-weight="normal" font-style="normal" fill="#F564E3" textLength="55.0" lengthAdjust="spacingAndGlyphs">group=White/Caucasian Normal</text>
<line x1="61.80" y1="401.40" x2="63.30" y2="401.40" stroke="#8a8a8a" stroke-width="0.6"/>
<text x="72.40" y="403.16" font-size="4.90" text-anchor="middle" font-weight="normal" font-style="normal" fill="#111" textLength="16.0" lengthAdjust="spacingAndGlyphs">1789 (0)</text>
<text x="106.24" y="403.16" font-size="4.90" text-anchor="middle" font-weight="normal" font-style="normal" fill="#111" textLength="20.8" lengthAdjust="spacingAndGlyphs">1044 (689)</text>
<text x="140.08" y="403.16" font-size="4.90" text-anchor="middle" font-weight="normal" font-style="normal" fill="#111" textLength="20.8" lengthAdjust="spacingAndGlyphs">483 (1063)</text>
<text x="173.92" y="403.16" font-size="4.90" text-anchor="middle" font-weight="normal" font-style="normal" fill="#111" textLength="20.5" lengthAdjust="spacingAndGlyphs">170 (1124)</text>
<text x="207.76" y="403.16" font-size="4.90" text-anchor="middle" font-weight="normal" font-style="normal" fill="#111" textLength="18.1" lengthAdjust="spacingAndGlyphs">45 (1157)</text>
<text x="241.60" y="403.16" font-size="4.90" text-anchor="middle" font-weight="normal" font-style="normal" fill="#111" textLength="15.7" lengthAdjust="spacingAndGlyphs">5 (1165)</text>
<line x1="72.40" y1="403.50" x2="72.40" y2="405.00" stroke="#8a8a8a" stroke-width="0.6"/>
<text x="72.40" y="409.38" font-size="4.40" text-anchor="middle" font-weight="normal" font-style="normal" fill="#000">0</text>
<line x1="106.24" y1="403.50" x2="106.24" y2="405.00" stroke="#8a8a8a" stroke-width="0.6"/>
<text x="106.24" y="409.38" font-size="4.40" text-anchor="middle" font-weight="normal" font-style="normal" fill="#000">60</text>
<line x1="140.08" y1="403.50" x2="140.08" y2="405.00" stroke="#8a8a8a" stroke-width="0.6"/>
<text x="140.08" y="409.38" font-size="4.40" text-anchor="middle" font-weight="normal" font-style="normal" fill="#000">120</text>
<line x1="173.92" y1="403.50" x2="173.92" y2="405.00" stroke="#8a8a8a" stroke-width="0.6"/>
<text x="173.92" y="409.38" font-size="4.40" text-anchor="middle" font-weight="normal" font-style="normal" fill="#000">180</text>
<line x1="207.76" y1="403.50" x2="207.76" y2="405.00" stroke="#8a8a8a" stroke-width="0.6"/>
<text x="207.76" y="409.38" font-size="4.40" text-anchor="middle" font-weight="normal" font-style="normal" fill="#000">240</text>
<line x1="241.60" y1="403.50" x2="241.60" y2="405.00" stroke="#8a8a8a" stroke-width="0.6"/>
<text x="241.60" y="409.38" font-size="4.40" text-anchor="middle" font-weight="normal" font-style="normal" fill="#000">300</text>
<text x="157.40" y="415.68" font-size="6.60" text-anchor="middle" font-weight="bold" font-style="italic" fill="#000">Time (Months)</text>
<text x="371.30" y="229.78" font-size="14.40" text-anchor="start" font-weight="normal" font-style="normal" fill="#111">D</text>
<text x="414.80" y="227.24" font-size="9.00" text-anchor="start" font-weight="bold" font-style="normal" fill="#000">PFS</text>
<text x="390.80" y="237.90" font-size="6.40" text-anchor="start" font-weight="normal" font-style="normal" fill="#111">Strata</text>
<path d="M412.00,235.50 H420.00" stroke="#F8766D" stroke-width="1.5" fill="none"/>
<path d="M414.40,235.80 L416.00,233.10 L417.60,235.80 Z" fill="#F8766D"/>
<text x="423.80" y="237.88" font-size="6.60" text-anchor="start" font-weight="normal" font-style="normal" fill="#111">group=Old High</text>
<path d="M473.50,235.50 H481.00" stroke="#7CAE00" stroke-width="1.5" fill="none"/>
<path d="M475.65,235.80 L477.25,233.25 L478.85,235.80 Z" fill="#7CAE00"/>
<text x="484.40" y="237.88" font-size="6.60" text-anchor="start" font-weight="normal" font-style="normal" fill="#111">group=Old Normal</text>
<path d="M541.40,235.50 H549.40" stroke="#00BFC4" stroke-width="1.5" fill="none"/>
<path d="M543.80,235.80 L545.40,233.10 L547.00,235.80 Z" fill="#00BFC4"/>
<text x="553.20" y="237.88" font-size="6.60" text-anchor="start" font-weight="normal" font-style="normal" fill="#111">group=Young High</text>
<path d="M610.80,235.50 H618.30" stroke="#C77CFF" stroke-width="1.5" fill="none"/>
<path d="M612.95,235.80 L614.55,233.25 L616.15,235.80 Z" fill="#C77CFF"/>
<text x="622.00" y="237.88" font-size="6.60" text-anchor="start" font-weight="normal" font-style="normal" fill="#111">group=Young Normal</text>
<line x1="414.60" y1="246.50" x2="414.60" y2="352.55" stroke="#8a8a8a" stroke-width="1.1"/>
<line x1="414.05" y1="352.00" x2="635.60" y2="352.00" stroke="#8a8a8a" stroke-width="1.1"/>
<line x1="412.60" y1="251.20" x2="414.60" y2="251.20" stroke="#555" stroke-width="0.8"/>
<text x="413.10" y="253.50" font-size="6.40" text-anchor="end" font-weight="normal" font-style="normal" fill="#222" textLength="11.9" lengthAdjust="spacingAndGlyphs">1.00</text>
<line x1="412.60" y1="275.23" x2="414.60" y2="275.23" stroke="#555" stroke-width="0.8"/>
<text x="413.10" y="277.53" font-size="6.40" text-anchor="end" font-weight="normal" font-style="normal" fill="#222" textLength="11.9" lengthAdjust="spacingAndGlyphs">0.75</text>
<line x1="412.60" y1="299.25" x2="414.60" y2="299.25" stroke="#555" stroke-width="0.8"/>
<text x="413.10" y="301.55" font-size="6.40" text-anchor="end" font-weight="normal" font-style="normal" fill="#222" textLength="11.9" lengthAdjust="spacingAndGlyphs">0.50</text>
<line x1="412.60" y1="323.28" x2="414.60" y2="323.28" stroke="#555" stroke-width="0.8"/>
<text x="413.10" y="325.58" font-size="6.40" text-anchor="end" font-weight="normal" font-style="normal" fill="#222" textLength="11.9" lengthAdjust="spacingAndGlyphs">0.25</text>
<line x1="412.60" y1="347.30" x2="414.60" y2="347.30" stroke="#555" stroke-width="0.8"/>
<text x="413.10" y="349.60" font-size="6.40" text-anchor="end" font-weight="normal" font-style="normal" fill="#222" textLength="11.9" lengthAdjust="spacingAndGlyphs">0.00</text>
<line x1="424.80" y1="352.00" x2="424.80" y2="354.00" stroke="#555" stroke-width="0.8"/>
<text x="424.80" y="358.26" font-size="6.00" text-anchor="middle" font-weight="normal" font-style="normal" fill="#000">0</text>
<line x1="464.94" y1="352.00" x2="464.94" y2="354.00" stroke="#555" stroke-width="0.8"/>
<text x="464.94" y="358.26" font-size="6.00" text-anchor="middle" font-weight="normal" font-style="normal" fill="#000">60</text>
<line x1="505.08" y1="352.00" x2="505.08" y2="354.00" stroke="#555" stroke-width="0.8"/>
<text x="505.08" y="358.26" font-size="6.00" text-anchor="middle" font-weight="normal" font-style="normal" fill="#000">120</text>
<line x1="545.22" y1="352.00" x2="545.22" y2="354.00" stroke="#555" stroke-width="0.8"/>
<text x="545.22" y="358.26" font-size="6.00" text-anchor="middle" font-weight="normal" font-style="normal" fill="#000">180</text>
<line x1="585.36" y1="352.00" x2="585.36" y2="354.00" stroke="#555" stroke-width="0.8"/>
<text x="585.36" y="358.26" font-size="6.00" text-anchor="middle" font-weight="normal" font-style="normal" fill="#000">240</text>
<line x1="625.50" y1="352.00" x2="625.50" y2="354.00" stroke="#555" stroke-width="0.8"/>
<text x="625.50" y="358.26" font-size="6.00" text-anchor="middle" font-weight="normal" font-style="normal" fill="#000">300</text>
<text transform="translate(370.08,298.00) rotate(-90)" x="0" y="0" font-size="6.60" text-anchor="middle" font-weight="bold" font-style="italic" fill="#000">Survival probability</text>
<text x="525.50" y="365.48" font-size="6.90" text-anchor="middle" font-weight="bold" font-style="italic" fill="#000">Time (Months)</text>
<text x="515.20" y="249.61" font-size="7.80" text-anchor="middle" font-weight="normal" font-style="normal" fill="#000">Group</text>
<text x="558.60" y="249.61" font-size="7.80" text-anchor="middle" font-weight="normal" font-style="normal" fill="#000">HR</text>
<text x="597.40" y="249.61" font-size="7.80" text-anchor="middle" font-weight="normal" font-style="normal" fill="#000">95%CI</text>
<text x="633.20" y="249.61" font-size="7.80" text-anchor="middle" font-weight="normal" font-style="normal" fill="#000">P</text>
<text x="515.20" y="259.81" font-size="7.80" text-anchor="middle" font-weight="normal" font-style="normal" fill="#000">Young normal</text>
<text x="558.60" y="259.81" font-size="7.80" text-anchor="middle" font-weight="normal" font-style="normal" fill="#000">Reference</text>
<text x="515.20" y="269.71" font-size="7.80" text-anchor="middle" font-weight="normal" font-style="normal" fill="#000">Young high</text>
<text x="558.60" y="269.71" font-size="7.80" text-anchor="middle" font-weight="normal" font-style="normal" fill="#000">1.82</text>
<text x="597.40" y="269.71" font-size="7.80" text-anchor="middle" font-weight="normal" font-style="normal" fill="#000">[1.66, 2.01]</text>
<text x="633.20" y="269.71" font-size="7.80" text-anchor="middle" font-weight="normal" font-style="normal" fill="#000">&lt;0.0001</text>
<text x="515.20" y="279.61" font-size="7.80" text-anchor="middle" font-weight="normal" font-style="normal" fill="#000">Old normal</text>
<text x="558.60" y="279.61" font-size="7.80" text-anchor="middle" font-weight="normal" font-style="normal" fill="#000">Reference</text>
<text x="515.20" y="289.21" font-size="7.80" text-anchor="middle" font-weight="normal" font-style="normal" fill="#000">Old high</text>
<text x="558.60" y="289.21" font-size="7.80" text-anchor="middle" font-weight="normal" font-style="normal" fill="#000">1.57</text>
<text x="597.40" y="289.21" font-size="7.80" text-anchor="middle" font-weight="normal" font-style="normal" fill="#000">[1.36, 1.82]</text>
<text x="633.20" y="289.21" font-size="7.80" text-anchor="middle" font-weight="normal" font-style="normal" fill="#000">&lt;0.0001</text>
<line x1="445.61" y1="299.25" x2="445.61" y2="347.30" stroke="#444" stroke-width="0.75" stroke-dasharray="1.4,1.8"/>
<line x1="453.23" y1="299.25" x2="453.23" y2="347.30" stroke="#444" stroke-width="0.75" stroke-dasharray="1.4,1.8"/>
<line x1="467.35" y1="299.25" x2="467.35" y2="347.30" stroke="#444" stroke-width="0.75" stroke-dasharray="1.4,1.8"/>
<line x1="489.69" y1="299.25" x2="489.69" y2="347.30" stroke="#444" stroke-width="0.75" stroke-dasharray="1.4,1.8"/>
<line x1="424.80" y1="299.25" x2="489.69" y2="299.25" stroke="#444" stroke-width="0.75" stroke-dasharray="1.4,1.8"/>
<path d="M425.30,251.30 L425.59,252.03 L425.87,252.76 L426.15,253.50 L426.42,254.24 L426.70,254.98 L426.97,255.73 L427.23,256.48 L427.50,257.23 L427.76,257.98 L428.02,258.74 L428.28,259.50 L428.54,260.27 L428.79,261.03 L429.05,261.80 L429.30,262.56 L429.55,263.33 L429.80,264.10 L430.06,264.88 L430.31,265.65 L430.56,266.42 L430.81,267.20 L431.07,267.97 L431.32,268.75 L431.58,269.52 L431.83,270.30 L432.09,271.07 L432.35,271.84 L432.61,272.62 L432.87,273.39 L433.14,274.16 L433.41,274.93 L433.68,275.70 L433.96,276.46 L434.23,277.23 L434.51,277.99 L434.80,278.75 L435.09,279.51 L435.38,280.26 L435.68,281.02 L435.98,281.77 L436.28,282.51 L436.60,283.25 L436.91,283.99 L437.23,284.73 L437.56,285.46 L437.89,286.19 L438.23,286.91 L438.58,287.63 L438.93,288.34 L439.29,289.05 L439.65,289.75 L440.03,290.45 L440.41,291.14 L440.79,291.83 L441.19,292.51 L441.59,293.18 L442.00,293.85 L442.42,294.51 L442.85,295.17 L443.29,295.82 L443.74,296.46 L444.19,297.09 L444.66,297.72 L445.13,298.33 L445.62,298.95 L446.11,299.55 L446.62,300.14 L447.13,300.73 L447.65,301.31 L448.19,301.88 L448.73,302.45 L449.28,303.01 L449.84,303.56 L450.40,304.10 L450.98,304.64 L451.56,305.17 L452.15,305.69 L452.74,306.21 L453.35,306.72 L453.96,307.23 L454.58,307.73 L455.20,308.22 L455.83,308.71 L456.47,309.19 L457.11,309.66 L457.75,310.13 L458.41,310.60 L459.06,311.05 L459.73,311.51 L460.39,311.96 L461.06,312.40 L461.74,312.84 L462.42,313.27 L463.10,313.70 L463.79,314.12 L464.48,314.54 L465.17,314.96 L465.86,315.37 L466.56,315.78 L467.26,316.18 L467.97,316.58 L468.67,316.98 L469.38,317.37 L470.09,317.76 L470.80,318.14 L471.51,318.52 L472.22,318.90 L472.93,319.28 L473.65,319.65 L474.36,320.01 L475.08,320.38 L475.80,320.74 L476.52,321.09 L477.24,321.45 L477.97,321.80 L478.69,322.14 L479.42,322.48 L480.14,322.82 L480.87,323.16 L481.60,323.49 L482.33,323.81 L483.07,324.14 L483.80,324.46 L484.54,324.77 L485.27,325.09 L486.01,325.40 L486.75,325.70 L487.49,326.00 L488.23,326.30 L488.97,326.59 L489.72,326.88 L490.46,327.17 L491.21,327.45 L491.96,327.73 L492.70,328.01 L493.45,328.28 L494.21,328.54 L494.96,328.81 L495.71,329.07 L496.46,329.32 L497.22,329.57 L497.98,329.82 L498.73,330.06 L499.49,330.30 L500.25,330.54 L501.02,330.77 L501.78,331.00 L502.54,331.22 L503.30,331.44 L504.07,331.66 L504.84,331.87 L505.60,332.08 L506.37,332.28 L507.14,332.48 L507.91,332.68 L508.68,332.87 L509.46,333.06 L510.23,333.24 L511.01,333.42 L511.78,333.60 L512.56,333.77 L513.34,333.94 L514.11,334.10 L514.89,334.26 L515.67,334.41 L516.45,334.56 L517.24,334.71 L518.02,334.85 L518.80,334.99 L519.59,335.13 L520.37,335.26 L521.16,335.38 L521.95,335.50 L522.74,335.62 L523.53,335.73 L524.32,335.84 L525.11,335.95 L525.90,336.05 L526.69,336.14 L527.49,336.23 L528.28,336.32 L529.08,336.40 L529.87,336.48 L530.67,336.56 L531.47,336.63 L532.26,336.69 L533.06,336.75 L533.86,336.81 L534.66,336.86 L535.46,336.91 L536.27,336.95 L537.07,336.99 L537.87,337.02 L538.68,337.05 L539.48,337.08 L540.29,337.10 L541.09,337.12 L541.90,337.13 L542.71,337.14 L543.51,337.14 L544.32,337.14 L545.13,337.13 L545.94,337.12 L546.75,337.11 L547.56,337.09 L548.37,337.06 L549.19,337.03 L550.00,337.00 H560.50 V338.40 H593.40 V346.90" fill="none" stroke="#F8766D" stroke-width="2.0" stroke-linejoin="round"/>
<path d="M425.30,251.30 L425.62,252.02 L425.95,252.74 L426.27,253.47 L426.59,254.19 L426.92,254.92 L427.25,255.65 L427.58,256.38 L427.91,257.11 L428.24,257.84 L428.57,258.57 L428.90,259.30 L429.24,260.03 L429.58,260.76 L429.92,261.49 L430.26,262.22 L430.60,262.95 L430.95,263.68 L431.30,264.41 L431.65,265.14 L432.00,265.87 L432.36,266.60 L432.71,267.32 L433.08,268.05 L433.44,268.77 L433.81,269.50 L434.18,270.22 L434.55,270.93 L434.93,271.65 L435.31,272.37 L435.69,273.08 L436.08,273.79 L436.47,274.50 L436.86,275.20 L437.26,275.91 L437.66,276.61 L438.07,277.31 L438.48,278.00 L438.90,278.69 L439.31,279.38 L439.74,280.06 L440.17,280.74 L440.60,281.42 L441.04,282.09 L441.48,282.76 L441.93,283.43 L442.38,284.09 L442.83,284.75 L443.30,285.40 L443.76,286.04 L444.24,286.69 L444.72,287.32 L445.20,287.96 L445.69,288.58 L446.19,289.21 L446.69,289.82 L447.20,290.43 L447.71,291.04 L448.23,291.64 L448.75,292.23 L449.28,292.82 L449.82,293.41 L450.36,293.98 L450.91,294.56 L451.46,295.12 L452.02,295.68 L452.58,296.24 L453.15,296.79 L453.72,297.34 L454.30,297.88 L454.88,298.41 L455.47,298.94 L456.06,299.46 L456.66,299.98 L457.26,300.49 L457.87,301.00 L458.48,301.50 L459.09,302.00 L459.71,302.49 L460.33,302.97 L460.96,303.45 L461.59,303.93 L462.23,304.40 L462.87,304.86 L463.51,305.32 L464.16,305.77 L464.81,306.22 L465.47,306.66 L466.12,307.10 L466.79,307.53 L467.45,307.96 L468.12,308.38 L468.79,308.80 L469.47,309.21 L470.15,309.61 L470.83,310.01 L471.51,310.41 L472.20,310.79 L472.89,311.18 L473.58,311.56 L474.28,311.93 L474.98,312.30 L475.68,312.66 L476.38,313.02 L477.09,313.37 L477.80,313.72 L478.51,314.06 L479.22,314.40 L479.94,314.73 L480.65,315.06 L481.37,315.38 L482.10,315.70 L482.82,316.01 L483.55,316.32 L484.28,316.62 L485.01,316.92 L485.74,317.22 L486.48,317.51 L487.22,317.79 L487.96,318.07 L488.70,318.35 L489.44,318.62 L490.19,318.89 L490.94,319.16 L491.69,319.42 L492.44,319.67 L493.19,319.93 L493.95,320.18 L494.70,320.42 L495.46,320.66 L496.22,320.90 L496.98,321.13 L497.75,321.36 L498.51,321.59 L499.28,321.81 L500.05,322.03 L500.82,322.25 L501.59,322.46 L502.36,322.67 L503.14,322.88 L503.91,323.09 L504.69,323.29 L505.47,323.48 L506.25,323.68 L507.03,323.87 L507.81,324.06 L508.59,324.24 L509.37,324.43 L510.16,324.61 L510.95,324.79 L511.73,324.96 L512.52,325.13 L513.31,325.30 L514.10,325.47 L514.89,325.64 L515.69,325.80 L516.48,325.96 L517.27,326.12 L518.07,326.28 L518.86,326.43 L519.66,326.58 L520.46,326.73 L521.26,326.88 L522.05,327.03 L522.85,327.17 L523.65,327.32 L524.45,327.46 L525.25,327.60 L526.05,327.73 L526.86,327.87 L527.66,328.01 L528.46,328.14 L529.26,328.27 L530.07,328.40 L530.87,328.53 L531.67,328.66 L532.48,328.79 L533.28,328.92 L534.09,329.04 L534.89,329.17 L535.70,329.29 L536.50,329.41 L537.31,329.53 L538.11,329.65 L538.92,329.77 L539.72,329.89 L540.53,330.01 L541.33,330.13 L542.14,330.25 L542.94,330.37 L543.74,330.49 L544.55,330.60 L545.35,330.72 L546.16,330.84 L546.96,330.95 L547.76,331.07 L548.56,331.19 L549.37,331.30 L550.17,331.42 L550.97,331.53 L551.77,331.65 L552.57,331.77 L553.37,331.89 L554.17,332.00 L554.96,332.12 L555.76,332.24 L556.56,332.36 L557.36,332.48 L558.15,332.60 L558.94,332.72 L559.74,332.84 L560.53,332.97 L561.32,333.09 L562.11,333.22 L562.90,333.34 L563.69,333.47 L564.48,333.60 L565.27,333.73 L566.05,333.86 L566.84,333.99 L567.62,334.12 L568.41,334.25 L569.19,334.39 L569.97,334.53 L570.75,334.67 L571.52,334.81 L572.30,334.95 L573.07,335.09 L573.85,335.24 L574.62,335.38 L575.39,335.53 L576.16,335.68 L576.93,335.84 L577.69,335.99 L578.46,336.15 L579.22,336.31 L579.98,336.47 L580.74,336.63 L581.50,336.80 H612.40 V338.40 H619.00 V340.30 H626.20 V344.70 H632.50 V346.90" fill="none" stroke="#00BFC4" stroke-width="2.4" stroke-linejoin="round"/>
<path d="M425.30,251.30 L425.76,251.95 L426.23,252.59 L426.70,253.24 L427.17,253.88 L427.64,254.53 L428.11,255.17 L428.59,255.81 L429.06,256.45 L429.54,257.10 L430.02,257.74 L430.50,258.38 L430.98,259.02 L431.47,259.65 L431.95,260.29 L432.44,260.93 L432.93,261.56 L433.42,262.20 L433.91,262.83 L434.41,263.46 L434.90,264.09 L435.40,264.72 L435.90,265.35 L436.40,265.98 L436.91,266.60 L437.41,267.23 L437.92,267.85 L438.43,268.47 L438.94,269.09 L439.45,269.71 L439.97,270.33 L440.48,270.94 L441.00,271.56 L441.52,272.17 L442.04,272.78 L442.57,273.39 L443.09,273.99 L443.62,274.60 L444.15,275.20 L444.68,275.80 L445.22,276.40 L445.75,277.00 L446.29,277.60 L446.83,278.19 L447.37,278.78 L447.92,279.37 L448.46,279.96 L449.01,280.54 L449.56,281.13 L450.12,281.71 L450.67,282.28 L451.23,282.86 L451.79,283.43 L452.35,284.01 L452.91,284.57 L453.47,285.14 L454.04,285.70 L454.61,286.26 L455.18,286.82 L455.76,287.38 L456.33,287.93 L456.91,288.48 L457.49,289.03 L458.08,289.57 L458.66,290.12 L459.25,290.65 L459.84,291.19 L460.43,291.72 L461.03,292.25 L461.62,292.78 L462.22,293.30 L462.82,293.83 L463.43,294.34 L464.03,294.86 L464.64,295.37 L465.25,295.88 L465.87,296.38 L466.48,296.88 L467.10,297.38 L467.72,297.88 L468.34,298.37 L468.97,298.85 L469.60,299.34 L470.23,299.82 L470.86,300.30 L471.50,300.77 L472.13,301.24 L472.78,301.71 L473.42,302.17 L474.06,302.63 L474.71,303.08 L475.36,303.53 L476.02,303.98 L476.67,304.42 L477.33,304.86 L477.99,305.29 L478.66,305.72 L479.32,306.15 L479.99,306.57 L480.66,306.99 L481.34,307.41 L482.02,307.82 L482.70,308.22 L483.38,308.62 L484.06,309.02 L484.75,309.41 L485.44,309.80 L486.14,310.18 L486.83,310.56 L487.53,310.94 L488.23,311.31 L488.94,311.67 L489.65,312.03 L490.36,312.39 L491.07,312.74 L491.79,313.08 L492.51,313.42 L493.23,313.76 L493.95,314.09 L494.68,314.42 L495.41,314.74 L496.14,315.06 L496.88,315.37 L497.62,315.67 L498.36,315.98 L499.11,316.27 L499.86,316.56 L500.61,316.85 L501.36,317.13 L502.12,317.40 L502.88,317.67 L503.64,317.94 L504.41,318.20 L505.18,318.45 L505.95,318.70 L506.73,318.94 L507.50,319.18 L508.28,319.42 L509.06,319.65 L509.84,319.88 L510.62,320.11 L511.41,320.34 L512.19,320.56 L512.98,320.78 L513.76,321.01 L514.55,321.23 L515.33,321.45 L516.12,321.67 L516.90,321.89 L517.68,322.11 L518.46,322.33 L519.24,322.55 L520.02,322.78 L520.80,323.01 L521.57,323.24 L522.34,323.47 L523.11,323.71 L523.88,323.95 L524.64,324.19 L525.40,324.44 L526.16,324.70 L526.91,324.96 L527.66,325.22 L528.41,325.49 L529.15,325.77 L529.88,326.05 L530.62,326.34 L531.34,326.63 L532.07,326.93 L532.79,327.24 L533.51,327.55 L534.23,327.86 L534.94,328.18 L535.65,328.51 L536.36,328.84 L537.07,329.17 L537.77,329.51 L538.47,329.86 L539.18,330.21 L539.88,330.55 L540.58,330.90 L541.29,331.24 L542.00,331.56 L542.71,331.87 L543.44,332.15 L544.17,332.41 L544.91,332.64 L545.66,332.85 L546.42,333.03 L547.18,333.20 L547.95,333.34 L548.72,333.47 L549.51,333.58 L550.29,333.68 L551.08,333.76 L551.88,333.83 L552.68,333.90 L553.48,333.95 L554.28,333.99 L555.09,334.03 L555.89,334.07 L556.70,334.10 L557.51,334.13 L558.32,334.16 L559.13,334.19 L559.94,334.23 L560.74,334.27 L561.55,334.32 L562.35,334.37 L563.15,334.43 L563.95,334.51 L564.74,334.59 L565.53,334.69 L566.31,334.80 L567.09,334.94 L567.86,335.08 L568.63,335.25 L569.39,335.44 L570.14,335.65 L570.89,335.89 L571.63,336.14 L572.36,336.41 L573.09,336.70 L573.82,337.00 L574.54,337.31 L575.26,337.64 L575.98,337.97 L576.70,338.31 L577.42,338.66 L578.14,339.01 L578.86,339.36 L579.58,339.71 L580.30,340.06 L581.03,340.41 L581.76,340.75 L582.49,341.08 L583.24,341.40 L583.98,341.72 L584.74,342.02 L585.50,342.30 H613.70 V346.90" fill="none" stroke="#7CAE00" stroke-width="2.4" stroke-linejoin="round"/>
<path d="M425.30,251.30 L425.91,251.83 L426.52,252.35 L427.13,252.87 L427.75,253.38 L428.38,253.88 L429.01,254.38 L429.64,254.87 L430.27,255.35 L430.91,255.83 L431.55,256.31 L432.20,256.78 L432.85,257.25 L433.49,257.71 L434.14,258.18 L434.80,258.64 L435.45,259.10 L436.10,259.55 L436.75,260.01 L437.41,260.47 L438.06,260.93 L438.71,261.39 L439.37,261.85 L440.02,262.31 L440.67,262.77 L441.32,263.24 L441.96,263.71 L442.61,264.18 L443.25,264.65 L443.89,265.14 L444.52,265.62 L445.16,266.11 L445.79,266.61 L446.41,267.11 L447.04,267.62 L447.65,268.13 L448.27,268.64 L448.89,269.16 L449.50,269.68 L450.11,270.20 L450.72,270.73 L451.33,271.26 L451.94,271.79 L452.54,272.32 L453.15,272.86 L453.75,273.39 L454.36,273.92 L454.96,274.46 L455.56,274.99 L456.17,275.52 L456.78,276.06 L457.38,276.58 L457.99,277.11 L458.60,277.64 L459.21,278.16 L459.82,278.68 L460.44,279.20 L461.06,279.71 L461.68,280.22 L462.30,280.72 L462.93,281.22 L463.55,281.72 L464.19,282.21 L464.82,282.69 L465.46,283.17 L466.10,283.65 L466.74,284.12 L467.38,284.59 L468.03,285.05 L468.68,285.51 L469.33,285.97 L469.99,286.42 L470.65,286.86 L471.31,287.31 L471.97,287.75 L472.64,288.18 L473.30,288.61 L473.97,289.04 L474.65,289.46 L475.32,289.88 L476.00,290.29 L476.68,290.70 L477.36,291.11 L478.05,291.51 L478.73,291.91 L479.42,292.31 L480.11,292.70 L480.80,293.09 L481.50,293.47 L482.20,293.85 L482.90,294.23 L483.60,294.60 L484.30,294.97 L485.01,295.34 L485.71,295.70 L486.42,296.06 L487.13,296.42 L487.85,296.77 L488.56,297.12 L489.28,297.47 L490.00,297.81 L490.72,298.15 L491.44,298.49 L492.16,298.82 L492.89,299.15 L493.62,299.48 L494.35,299.80 L495.08,300.12 L495.81,300.44 L496.54,300.76 L497.28,301.07 L498.02,301.38 L498.75,301.69 L499.49,301.99 L500.24,302.29 L500.98,302.59 L501.72,302.88 L502.47,303.18 L503.22,303.47 L503.96,303.76 L504.71,304.04 L505.46,304.32 L506.22,304.60 L506.97,304.88 L507.73,305.16 L508.48,305.43 L509.24,305.70 L510.00,305.96 L510.76,306.23 L511.52,306.49 L512.28,306.75 L513.04,307.01 L513.80,307.27 L514.57,307.52 L515.33,307.77 L516.10,308.02 L516.86,308.26 L517.63,308.51 L518.40,308.75 L519.17,308.99 L519.94,309.22 L520.71,309.46 L521.48,309.69 L522.25,309.92 L523.02,310.15 L523.79,310.37 L524.57,310.59 L525.34,310.82 L526.11,311.03 L526.89,311.25 L527.66,311.47 L528.44,311.68 L529.21,311.89 L529.99,312.10 L530.76,312.30 L531.54,312.51 L532.32,312.71 L533.09,312.91 L533.87,313.11 L534.64,313.30 L535.42,313.50 L536.20,313.69 L536.97,313.88 L537.75,314.07 L538.53,314.25 L539.30,314.44 L540.08,314.62 L540.86,314.80 L541.63,314.98 L542.41,315.16 L543.19,315.33 L543.96,315.50 L544.74,315.67 L545.51,315.83 L546.29,316.00 L547.07,316.16 L547.84,316.31 L548.62,316.46 L549.39,316.61 L550.17,316.75 L550.95,316.90 L551.72,317.03 L552.50,317.17 L553.28,317.30 L554.05,317.43 L554.83,317.55 L555.61,317.68 L556.38,317.80 L557.16,317.92 L557.93,318.04 L558.71,318.16 L559.48,318.29 L560.25,318.41 L561.03,318.53 L561.80,318.65 L562.57,318.78 L563.34,318.91 L564.11,319.04 L564.88,319.17 L565.65,319.30 L566.42,319.44 L567.18,319.59 L567.95,319.73 L568.71,319.88 L569.48,320.04 L570.24,320.20 L571.00,320.36 L571.76,320.53 L572.52,320.70 L573.28,320.88 L574.04,321.06 L574.80,321.24 L575.56,321.42 L576.32,321.61 L577.07,321.81 L577.83,322.00 L578.59,322.20 L579.35,322.40 L580.10,322.60 L580.86,322.80 L581.62,323.00 L582.38,323.21 L583.13,323.42 L583.89,323.62 L584.65,323.83 L585.41,324.04 L586.17,324.25 L586.93,324.46 L587.69,324.67 L588.46,324.88 L589.22,325.08 L589.98,325.29 L590.75,325.50 L591.52,325.70 L592.28,325.90 L593.05,326.10 L593.82,326.29 L594.60,326.47 L595.37,326.65 L596.15,326.81 L596.93,326.97 L597.71,327.12 L598.49,327.26 L599.28,327.38 L600.07,327.49 L600.86,327.59 L601.66,327.68 L602.46,327.74 L603.26,327.79 L604.06,327.82 L604.87,327.84 L605.68,327.83 L606.50,327.80 H635.40 V346.90" fill="none" stroke="#C77CFF" stroke-width="2.7" stroke-linejoin="round"/>
<text x="414.90" y="376.08" font-size="7.45" text-anchor="start" font-weight="bold" font-style="normal" fill="#000">Number at risk (number of events)</text>
<text transform="translate(370.60,390.70) rotate(-90)" x="0" y="0" font-size="6.10" text-anchor="middle" font-weight="bold" font-style="normal" fill="#000" textLength="14.6" lengthAdjust="spacingAndGlyphs">Strata</text>
<line x1="414.40" y1="380.30" x2="414.40" y2="402.95" stroke="#8a8a8a" stroke-width="1.1"/>
<line x1="413.85" y1="402.40" x2="635.60" y2="402.40" stroke="#8a8a8a" stroke-width="1.1"/>
<text x="382.80" y="384.83" font-size="4.80" text-anchor="start" font-weight="normal" font-style="normal" fill="#F8766D" textLength="30.2" lengthAdjust="spacingAndGlyphs">group=Old High</text>
<line x1="412.90" y1="383.10" x2="414.40" y2="383.10" stroke="#8a8a8a" stroke-width="0.6"/>
<text x="424.80" y="385.01" font-size="5.30" text-anchor="middle" font-weight="normal" font-style="normal" fill="#111">365 (0)</text>
<text x="464.94" y="385.01" font-size="5.30" text-anchor="middle" font-weight="normal" font-style="normal" fill="#111">123 (238)</text>
<text x="505.08" y="385.01" font-size="5.30" text-anchor="middle" font-weight="normal" font-style="normal" fill="#111">40 (299)</text>
<text x="545.22" y="385.01" font-size="5.30" text-anchor="middle" font-weight="normal" font-style="normal" fill="#111">14 (310)</text>
<text x="585.36" y="385.01" font-size="5.30" text-anchor="middle" font-weight="normal" font-style="normal" fill="#111">2 (311)</text>
<text x="625.50" y="385.01" font-size="5.30" text-anchor="middle" font-weight="normal" font-style="normal" fill="#111">0 (312)</text>
<text x="377.60" y="390.33" font-size="4.80" text-anchor="start" font-weight="normal" font-style="normal" fill="#7CAE00" textLength="35.4" lengthAdjust="spacingAndGlyphs">group=Old Normal</text>
<line x1="412.90" y1="388.60" x2="414.40" y2="388.60" stroke="#8a8a8a" stroke-width="0.6"/>
<text x="424.80" y="390.51" font-size="5.30" text-anchor="middle" font-weight="normal" font-style="normal" fill="#111">570 (0)</text>
<text x="464.94" y="390.51" font-size="5.30" text-anchor="middle" font-weight="normal" font-style="normal" fill="#111">277 (271)</text>
<text x="505.08" y="390.51" font-size="5.30" text-anchor="middle" font-weight="normal" font-style="normal" fill="#111">104 (368)</text>
<text x="545.22" y="390.51" font-size="5.30" text-anchor="middle" font-weight="normal" font-style="normal" fill="#111">21 (406)</text>
<text x="585.36" y="390.51" font-size="5.30" text-anchor="middle" font-weight="normal" font-style="normal" fill="#111">4 (413)</text>
<text x="625.50" y="390.51" font-size="5.30" text-anchor="middle" font-weight="normal" font-style="normal" fill="#111">0 (415)</text>
<text x="377.60" y="395.83" font-size="4.80" text-anchor="start" font-weight="normal" font-style="normal" fill="#00BFC4" textLength="35.4" lengthAdjust="spacingAndGlyphs">group=Young High</text>
<line x1="412.90" y1="394.10" x2="414.40" y2="394.10" stroke="#8a8a8a" stroke-width="0.6"/>
<text x="424.80" y="396.01" font-size="5.30" text-anchor="middle" font-weight="normal" font-style="normal" fill="#111">997 (0)</text>
<text x="464.94" y="396.01" font-size="5.30" text-anchor="middle" font-weight="normal" font-style="normal" fill="#111">402 (571)</text>
<text x="505.08" y="396.01" font-size="5.30" text-anchor="middle" font-weight="normal" font-style="normal" fill="#111">171 (726)</text>
<text x="545.22" y="396.01" font-size="5.30" text-anchor="middle" font-weight="normal" font-style="normal" fill="#111">57 (772)</text>
<text x="585.36" y="396.01" font-size="5.30" text-anchor="middle" font-weight="normal" font-style="normal" fill="#111">9 (784)</text>
<text x="625.50" y="396.01" font-size="5.30" text-anchor="middle" font-weight="normal" font-style="normal" fill="#111">2 (786)</text>
<text x="372.30" y="401.13" font-size="4.80" text-anchor="start" font-weight="normal" font-style="normal" fill="#C77CFF" textLength="40.7" lengthAdjust="spacingAndGlyphs">group=Young Normal</text>
<line x1="412.90" y1="399.40" x2="414.40" y2="399.40" stroke="#8a8a8a" stroke-width="0.6"/>
<text x="424.80" y="401.31" font-size="5.30" text-anchor="middle" font-weight="normal" font-style="normal" fill="#111">1514 (0)</text>
<text x="464.94" y="401.31" font-size="5.30" text-anchor="middle" font-weight="normal" font-style="normal" fill="#111">939 (521)</text>
<text x="505.08" y="401.31" font-size="5.30" text-anchor="middle" font-weight="normal" font-style="normal" fill="#111">461 (782)</text>
<text x="545.22" y="401.31" font-size="5.30" text-anchor="middle" font-weight="normal" font-style="normal" fill="#111">175 (879)</text>
<text x="585.36" y="401.31" font-size="5.30" text-anchor="middle" font-weight="normal" font-style="normal" fill="#111">46 (908)</text>
<text x="625.50" y="401.31" font-size="5.30" text-anchor="middle" font-weight="normal" font-style="normal" fill="#111">5 (916)</text>
<line x1="424.80" y1="402.40" x2="424.80" y2="403.90" stroke="#8a8a8a" stroke-width="0.6"/>
<text x="424.80" y="408.66" font-size="4.60" text-anchor="middle" font-weight="normal" font-style="normal" fill="#000">0</text>
<line x1="464.94" y1="402.40" x2="464.94" y2="403.90" stroke="#8a8a8a" stroke-width="0.6"/>
<text x="464.94" y="408.66" font-size="4.60" text-anchor="middle" font-weight="normal" font-style="normal" fill="#000">60</text>
<line x1="505.08" y1="402.40" x2="505.08" y2="403.90" stroke="#8a8a8a" stroke-width="0.6"/>
<text x="505.08" y="408.66" font-size="4.60" text-anchor="middle" font-weight="normal" font-style="normal" fill="#000">120</text>
<line x1="545.22" y1="402.40" x2="545.22" y2="403.90" stroke="#8a8a8a" stroke-width="0.6"/>
<text x="545.22" y="408.66" font-size="4.60" text-anchor="middle" font-weight="normal" font-style="normal" fill="#000">180</text>
<line x1="585.36" y1="402.40" x2="585.36" y2="403.90" stroke="#8a8a8a" stroke-width="0.6"/>
<text x="585.36" y="408.66" font-size="4.60" text-anchor="middle" font-weight="normal" font-style="normal" fill="#000">240</text>
<line x1="625.50" y1="402.40" x2="625.50" y2="403.90" stroke="#8a8a8a" stroke-width="0.6"/>
<text x="625.50" y="408.66" font-size="4.60" text-anchor="middle" font-weight="normal" font-style="normal" fill="#000">300</text>
<text x="525.60" y="415.36" font-size="7.40" text-anchor="middle" font-weight="bold" font-style="italic" fill="#000">Time (Months)</text>
<text x="17.00" y="440.58" font-size="14.40" text-anchor="start" font-weight="normal" font-style="normal" fill="#111">E</text>
<text x="63.80" y="434.55" font-size="9.30" text-anchor="start" font-weight="bold" font-style="normal" fill="#000">PFS</text>
<text x="35.90" y="443.85" font-size="5.70" text-anchor="start" font-weight="normal" font-style="normal" fill="#111">Strata</text>
<path d="M54.60,442.20 H60.80" stroke="#F8766D" stroke-width="1.5" fill="none"/>
<path d="M56.10,442.50 L57.70,440.34 L59.30,442.50 Z" fill="#F8766D"/>
<text x="64.00" y="444.22" font-size="5.60" text-anchor="start" font-weight="normal" font-style="normal" fill="#111">group=Salvage _ High</text>
<path d="M121.60,442.20 H128.00" stroke="#7CAE00" stroke-width="1.5" fill="none"/>
<path d="M123.20,442.50 L124.80,440.28 L126.40,442.50 Z" fill="#7CAE00"/>
<text x="131.90" y="444.22" font-size="5.60" text-anchor="start" font-weight="normal" font-style="normal" fill="#111">group=Salvage _ Normal</text>
<path d="M197.00,442.20 H202.90" stroke="#00BFC4" stroke-width="1.5" fill="none"/>
<path d="M198.35,442.50 L199.95,440.43 L201.55,442.50 Z" fill="#00BFC4"/>
<text x="206.00" y="444.22" font-size="5.60" text-anchor="start" font-weight="normal" font-style="normal" fill="#111">group=Upfront _ High</text>
<path d="M262.30,442.20 H268.40" stroke="#C77CFF" stroke-width="1.5" fill="none"/>
<path d="M263.75,442.50 L265.35,440.37 L266.95,442.50 Z" fill="#C77CFF"/>
<text x="271.60" y="444.22" font-size="5.60" text-anchor="start" font-weight="normal" font-style="normal" fill="#111">group=Upfront _ Normal</text>
<line x1="63.70" y1="453.80" x2="63.70" y2="558.85" stroke="#8a8a8a" stroke-width="1.1"/>
<line x1="63.15" y1="558.30" x2="296.80" y2="558.30" stroke="#8a8a8a" stroke-width="1.1"/>
<line x1="61.70" y1="458.70" x2="63.70" y2="458.70" stroke="#555" stroke-width="0.8"/>
<text x="62.10" y="461.00" font-size="6.40" text-anchor="end" font-weight="normal" font-style="normal" fill="#222" textLength="11.7" lengthAdjust="spacingAndGlyphs">1.00</text>
<line x1="61.70" y1="482.47" x2="63.70" y2="482.47" stroke="#555" stroke-width="0.8"/>
<text x="62.10" y="484.78" font-size="6.40" text-anchor="end" font-weight="normal" font-style="normal" fill="#222" textLength="11.7" lengthAdjust="spacingAndGlyphs">0.75</text>
<line x1="61.70" y1="506.25" x2="63.70" y2="506.25" stroke="#555" stroke-width="0.8"/>
<text x="62.10" y="508.55" font-size="6.40" text-anchor="end" font-weight="normal" font-style="normal" fill="#222" textLength="11.7" lengthAdjust="spacingAndGlyphs">0.50</text>
<line x1="61.70" y1="530.02" x2="63.70" y2="530.02" stroke="#555" stroke-width="0.8"/>
<text x="62.10" y="532.33" font-size="6.40" text-anchor="end" font-weight="normal" font-style="normal" fill="#222" textLength="11.7" lengthAdjust="spacingAndGlyphs">0.25</text>
<line x1="61.70" y1="553.80" x2="63.70" y2="553.80" stroke="#555" stroke-width="0.8"/>
<text x="62.10" y="556.10" font-size="6.40" text-anchor="end" font-weight="normal" font-style="normal" fill="#222" textLength="11.7" lengthAdjust="spacingAndGlyphs">0.00</text>
<line x1="74.20" y1="558.30" x2="74.20" y2="560.30" stroke="#555" stroke-width="0.8"/>
<text x="74.20" y="565.36" font-size="6.00" text-anchor="middle" font-weight="normal" font-style="normal" fill="#000">0</text>
<line x1="116.50" y1="558.30" x2="116.50" y2="560.30" stroke="#555" stroke-width="0.8"/>
<text x="116.50" y="565.36" font-size="6.00" text-anchor="middle" font-weight="normal" font-style="normal" fill="#000">60</text>
<line x1="158.80" y1="558.30" x2="158.80" y2="560.30" stroke="#555" stroke-width="0.8"/>
<text x="158.80" y="565.36" font-size="6.00" text-anchor="middle" font-weight="normal" font-style="normal" fill="#000">120</text>
<line x1="201.10" y1="558.30" x2="201.10" y2="560.30" stroke="#555" stroke-width="0.8"/>
<text x="201.10" y="565.36" font-size="6.00" text-anchor="middle" font-weight="normal" font-style="normal" fill="#000">180</text>
<line x1="243.40" y1="558.30" x2="243.40" y2="560.30" stroke="#555" stroke-width="0.8"/>
<text x="243.40" y="565.36" font-size="6.00" text-anchor="middle" font-weight="normal" font-style="normal" fill="#000">240</text>
<line x1="285.70" y1="558.30" x2="285.70" y2="560.30" stroke="#555" stroke-width="0.8"/>
<text x="285.70" y="565.36" font-size="6.00" text-anchor="middle" font-weight="normal" font-style="normal" fill="#000">300</text>
<text transform="translate(12.38,505.60) rotate(-90)" x="0" y="0" font-size="6.60" text-anchor="middle" font-weight="bold" font-style="italic" fill="#000">Survival probability</text>
<text x="180.80" y="571.88" font-size="6.90" text-anchor="middle" font-weight="bold" font-style="italic" fill="#000">Time (Months)</text>
<text x="167.00" y="463.31" font-size="7.80" text-anchor="middle" font-weight="normal" font-style="normal" fill="#000">Group</text>
<text x="212.40" y="463.31" font-size="7.80" text-anchor="middle" font-weight="normal" font-style="normal" fill="#000">HR</text>
<text x="259.40" y="463.31" font-size="7.80" text-anchor="middle" font-weight="normal" font-style="normal" fill="#000">95%CI</text>
<text x="308.80" y="463.31" font-size="7.80" text-anchor="middle" font-weight="normal" font-style="normal" fill="#000">P</text>
<text x="167.00" y="472.91" font-size="7.80" text-anchor="middle" font-weight="normal" font-style="normal" fill="#000">Upfront low</text>
<text x="212.40" y="472.91" font-size="7.80" text-anchor="middle" font-weight="normal" font-style="normal" fill="#000">Reference</text>
<text x="167.00" y="482.91" font-size="7.80" text-anchor="middle" font-weight="normal" font-style="normal" fill="#000">Upfront high</text>
<text x="212.40" y="482.91" font-size="7.80" text-anchor="middle" font-weight="normal" font-style="normal" fill="#000">1.77</text>
<text x="259.40" y="482.91" font-size="7.80" text-anchor="middle" font-weight="normal" font-style="normal" fill="#000">[1.63, 1.93]</text>
<text x="308.80" y="482.91" font-size="7.80" text-anchor="middle" font-weight="normal" font-style="normal" fill="#000">&lt;0.0001</text>
<text x="167.00" y="492.81" font-size="7.80" text-anchor="middle" font-weight="normal" font-style="normal" fill="#000">Salvage low</text>
<text x="212.40" y="492.81" font-size="7.80" text-anchor="middle" font-weight="normal" font-style="normal" fill="#000">Reference</text>
<text x="167.00" y="502.51" font-size="7.80" text-anchor="middle" font-weight="normal" font-style="normal" fill="#000">Salvage high</text>
<text x="212.40" y="502.51" font-size="7.80" text-anchor="middle" font-weight="normal" font-style="normal" fill="#000">1.61</text>
<text x="259.40" y="502.51" font-size="7.80" text-anchor="middle" font-weight="normal" font-style="normal" fill="#000">[1.28, 2.02]</text>
<text x="308.80" y="502.51" font-size="7.80" text-anchor="middle" font-weight="normal" font-style="normal" fill="#000">&lt;0.0001</text>
<line x1="83.93" y1="506.25" x2="83.93" y2="553.80" stroke="#444" stroke-width="0.75" stroke-dasharray="1.4,1.8"/>
<line x1="98.31" y1="506.25" x2="98.31" y2="553.80" stroke="#444" stroke-width="0.75" stroke-dasharray="1.4,1.8"/>
<line x1="104.94" y1="506.25" x2="104.94" y2="553.80" stroke="#444" stroke-width="0.75" stroke-dasharray="1.4,1.8"/>
<line x1="138.71" y1="506.25" x2="138.71" y2="553.80" stroke="#444" stroke-width="0.75" stroke-dasharray="1.4,1.8"/>
<line x1="74.20" y1="506.25" x2="138.71" y2="506.25" stroke="#444" stroke-width="0.75" stroke-dasharray="1.4,1.8"/>
<path d="M74.70,458.70 L74.66,459.53 L74.64,460.35 L74.61,461.18 L74.60,462.00 L74.59,462.82 L74.58,463.64 L74.59,464.46 L74.60,465.28 L74.61,466.09 L74.64,466.90 L74.67,467.72 L74.70,468.53 L74.74,469.33 L74.79,470.14 L74.85,470.95 L74.91,471.75 L74.98,472.55 L75.05,473.35 L75.13,474.15 L75.22,474.95 L75.32,475.74 L75.42,476.54 L75.52,477.33 L75.63,478.12 L75.75,478.91 L75.88,479.69 L76.01,480.48 L76.15,481.26 L76.29,482.04 L76.44,482.82 L76.60,483.60 L76.77,484.38 L76.94,485.15 L77.11,485.92 L77.29,486.69 L77.48,487.46 L77.68,488.23 L77.88,489.00 L78.08,489.76 L78.30,490.52 L78.52,491.28 L78.74,492.04 L78.97,492.80 L79.21,493.55 L79.46,494.30 L79.71,495.05 L79.96,495.80 L80.23,496.55 L80.50,497.29 L80.77,498.04 L81.05,498.78 L81.34,499.52 L81.63,500.26 L81.93,500.99 L82.24,501.72 L82.55,502.46 L82.86,503.19 L83.19,503.91 L83.52,504.64 L83.85,505.36 L84.19,506.09 L84.54,506.81 L84.90,507.52 L85.26,508.24 L85.62,508.95 L85.99,509.66 L86.37,510.37 L86.75,511.08 L87.14,511.79 L87.54,512.49 L87.94,513.19 L88.35,513.89 L88.76,514.59 L89.18,515.28 L89.60,515.97 L90.03,516.65 L90.47,517.33 L90.91,518.01 L91.36,518.68 L91.82,519.35 L92.28,520.01 L92.74,520.66 L93.22,521.31 L93.69,521.95 L94.18,522.59 L94.67,523.22 L95.17,523.84 L95.68,524.45 L96.19,525.04 L96.72,525.63 L97.26,526.20 L97.81,526.76 L98.37,527.31 L98.95,527.84 L99.54,528.35 L100.14,528.84 L100.75,529.32 L101.38,529.79 L102.02,530.23 L102.67,530.67 L103.33,531.09 L104.00,531.49 L104.68,531.88 L105.38,532.26 L106.07,532.62 L106.78,532.97 L107.50,533.31 L108.22,533.64 L108.95,533.95 L109.68,534.26 L110.42,534.55 L111.17,534.83 L111.92,535.10 L112.67,535.37 L113.43,535.62 L114.19,535.86 L114.95,536.09 L115.72,536.32 L116.49,536.54 L117.26,536.75 L118.04,536.95 L118.81,537.14 L119.59,537.33 L120.37,537.52 L121.16,537.70 L121.94,537.87 L122.73,538.04 L123.52,538.20 L124.30,538.36 L125.09,538.52 L125.89,538.68 L126.68,538.83 L127.47,538.98 L128.26,539.13 L129.06,539.28 L129.85,539.42 L130.65,539.57 L131.44,539.72 L132.23,539.87 L133.03,540.02 L133.82,540.17 L134.61,540.32 L135.40,540.47 L136.20,540.63 L136.99,540.79 L137.77,540.95 L138.56,541.12 L139.35,541.29 L140.13,541.47 L140.91,541.65 L141.70,541.84 L142.48,542.03 L143.26,542.22 L144.03,542.42 L144.81,542.62 L145.59,542.82 L146.36,543.02 L147.14,543.22 L147.91,543.43 L148.68,543.63 L149.46,543.83 L150.23,544.03 L151.01,544.23 L151.78,544.43 L152.56,544.63 L153.33,544.82 L154.11,545.00 L154.88,545.19 L155.66,545.37 L156.44,545.54 L157.22,545.71 L158.00,545.87 L158.78,546.03 L159.57,546.18 L160.35,546.32 L161.14,546.45 L161.93,546.58 L162.72,546.69 L163.51,546.80 L164.31,546.90 L165.11,546.98 L165.91,547.06 L166.71,547.13 L167.51,547.18 L168.32,547.23 L169.13,547.28 L169.94,547.31 L170.75,547.34 L171.56,547.36 L172.38,547.38 L173.19,547.39 L174.01,547.40 L174.82,547.40 L175.64,547.40 L176.45,547.40 L177.27,547.40 L178.09,547.39 L178.91,547.39 L179.72,547.38 L180.54,547.37 L181.36,547.36 L182.17,547.36 L182.99,547.36 L183.80,547.35 L184.61,547.36 L185.42,547.36 L186.24,547.37 L187.04,547.38 L187.85,547.40 L188.66,547.43 L189.46,547.46 L190.26,547.49 L191.06,547.54 L191.86,547.59 L192.65,547.65 L193.44,547.72 L194.23,547.80 L195.02,547.88 L195.80,547.98 L196.58,548.09 L197.36,548.22 L198.13,548.35 L198.90,548.50 L199.66,548.66 L200.43,548.83 L201.18,549.02 L201.94,549.22 L202.68,549.44 L203.43,549.68 L204.17,549.93 L204.90,550.20 L205.63,550.48 L206.36,550.79 L207.08,551.11 L207.79,551.45 L208.50,551.82 L209.20,552.20 H249.40" fill="none" stroke="#F8766D" stroke-width="1.1" stroke-linejoin="round"/>
<path d="M74.70,458.70 L74.59,459.58 L74.52,460.45 L74.47,461.31 L74.45,462.15 L74.46,462.98 L74.50,463.79 L74.56,464.60 L74.65,465.40 L74.76,466.18 L74.89,466.96 L75.04,467.72 L75.22,468.48 L75.42,469.23 L75.63,469.97 L75.87,470.70 L76.12,471.43 L76.39,472.15 L76.68,472.86 L76.98,473.57 L77.29,474.28 L77.62,474.98 L77.96,475.68 L78.31,476.37 L78.67,477.06 L79.04,477.75 L79.42,478.44 L79.81,479.13 L80.20,479.81 L80.60,480.50 L81.01,481.18 L81.41,481.87 L81.83,482.56 L82.24,483.25 L82.66,483.94 L83.07,484.64 L83.49,485.34 L83.91,486.04 L84.33,486.74 L84.76,487.44 L85.18,488.14 L85.61,488.84 L86.04,489.54 L86.47,490.24 L86.91,490.94 L87.35,491.64 L87.79,492.34 L88.24,493.04 L88.69,493.73 L89.14,494.42 L89.60,495.10 L90.06,495.79 L90.53,496.46 L91.00,497.14 L91.47,497.81 L91.95,498.47 L92.44,499.13 L92.93,499.78 L93.43,500.43 L93.93,501.07 L94.44,501.70 L94.95,502.32 L95.47,502.94 L96.00,503.55 L96.53,504.15 L97.07,504.74 L97.62,505.32 L98.18,505.89 L98.74,506.45 L99.31,507.00 L99.89,507.54 L100.47,508.07 L101.06,508.59 L101.66,509.10 L102.27,509.60 L102.88,510.09 L103.50,510.57 L104.13,511.05 L104.76,511.51 L105.40,511.96 L106.04,512.41 L106.69,512.84 L107.35,513.27 L108.01,513.69 L108.68,514.10 L109.35,514.50 L110.03,514.90 L110.72,515.29 L111.41,515.67 L112.10,516.04 L112.80,516.40 L113.50,516.76 L114.21,517.11 L114.92,517.46 L115.64,517.80 L116.36,518.13 L117.08,518.46 L117.81,518.78 L118.54,519.09 L119.28,519.40 L120.02,519.70 L120.76,520.00 L121.50,520.29 L122.25,520.58 L123.00,520.87 L123.75,521.14 L124.51,521.42 L125.26,521.69 L126.02,521.95 L126.79,522.22 L127.55,522.47 L128.32,522.73 L129.08,522.98 L129.85,523.23 L130.62,523.47 L131.39,523.71 L132.17,523.95 L132.94,524.19 L133.71,524.42 L134.49,524.65 L135.26,524.88 L136.04,525.11 L136.82,525.34 L137.59,525.56 L138.37,525.78 L139.15,526.00 L139.92,526.22 L140.70,526.44 L141.47,526.66 L142.25,526.88 L143.02,527.10 L143.79,527.31 L144.57,527.53 L145.34,527.75 L146.11,527.96 L146.88,528.18 L147.65,528.39 L148.42,528.61 L149.19,528.82 L149.96,529.04 L150.73,529.25 L151.50,529.47 L152.27,529.68 L153.03,529.90 L153.80,530.12 L154.57,530.34 L155.33,530.55 L156.10,530.77 L156.86,531.00 L157.62,531.22 L158.39,531.44 L159.15,531.66 L159.91,531.89 L160.67,532.12 L161.43,532.35 L162.19,532.58 L162.95,532.81 L163.71,533.04 L164.46,533.28 L165.22,533.52 L165.97,533.76 L166.73,534.00 L167.48,534.24 L168.23,534.49 L168.99,534.74 L169.74,534.99 L170.49,535.24 L171.24,535.50 L171.99,535.76 L172.73,536.02 L173.48,536.29 L174.23,536.56 L174.97,536.83 L175.72,537.11 L176.46,537.39 L177.20,537.67 L177.94,537.95 L178.68,538.24 L179.42,538.54 L180.16,538.83 L180.90,539.13 L181.64,539.44 L182.37,539.75 L183.11,540.06 L183.84,540.38 L184.57,540.70 L185.30,541.03 L186.03,541.36 L186.77,541.68 L187.50,542.01 L188.23,542.33 L188.97,542.64 L189.70,542.94 L190.44,543.23 L191.18,543.51 L191.93,543.78 L192.68,544.03 L193.43,544.27 L194.18,544.50 L194.94,544.72 L195.70,544.92 L196.47,545.12 L197.23,545.30 L198.00,545.48 L198.77,545.65 L199.55,545.81 L200.32,545.96 L201.10,546.11 L201.88,546.25 L202.66,546.38 L203.45,546.51 L204.23,546.64 L205.02,546.77 L205.81,546.89 L206.60,547.01 L207.38,547.13 L208.18,547.25 L208.97,547.37 L209.76,547.49 L210.55,547.61 L211.34,547.73 L212.14,547.85 L212.93,547.97 L213.73,548.09 L214.52,548.21 L215.31,548.32 L216.11,548.44 L216.90,548.56 L217.70,548.68 L218.49,548.79 L219.29,548.91 L220.08,549.03 L220.87,549.15 L221.67,549.26 L222.46,549.38 L223.25,549.50 L224.04,549.62 L224.83,549.74 L225.62,549.86 L226.41,549.98 L227.20,550.10 H245.20 V552.20 H252.20" fill="none" stroke="#7CAE00" stroke-width="1.5" stroke-linejoin="round"/>
<path d="M74.70,458.70 L75.12,459.36 L75.54,460.02 L75.95,460.68 L76.36,461.35 L76.77,462.03 L77.18,462.70 L77.58,463.39 L77.98,464.07 L78.38,464.76 L78.78,465.45 L79.18,466.14 L79.57,466.84 L79.96,467.53 L80.36,468.23 L80.75,468.94 L81.14,469.64 L81.53,470.35 L81.92,471.05 L82.31,471.76 L82.70,472.47 L83.08,473.18 L83.47,473.89 L83.86,474.60 L84.25,475.31 L84.65,476.02 L85.04,476.74 L85.43,477.45 L85.83,478.16 L86.22,478.87 L86.62,479.58 L87.02,480.28 L87.42,480.99 L87.82,481.69 L88.23,482.40 L88.64,483.10 L89.05,483.80 L89.46,484.49 L89.88,485.19 L90.30,485.88 L90.72,486.57 L91.15,487.25 L91.58,487.94 L92.01,488.62 L92.45,489.29 L92.89,489.96 L93.34,490.63 L93.79,491.29 L94.25,491.95 L94.71,492.60 L95.17,493.25 L95.64,493.90 L96.12,494.54 L96.60,495.17 L97.09,495.80 L97.58,496.42 L98.08,497.04 L98.59,497.65 L99.10,498.25 L99.62,498.85 L100.14,499.44 L100.67,500.03 L101.21,500.60 L101.75,501.18 L102.30,501.74 L102.86,502.30 L103.42,502.86 L103.98,503.41 L104.55,503.95 L105.13,504.49 L105.71,505.02 L106.30,505.54 L106.89,506.06 L107.49,506.57 L108.09,507.08 L108.70,507.58 L109.31,508.08 L109.93,508.57 L110.55,509.06 L111.18,509.54 L111.81,510.01 L112.44,510.48 L113.08,510.94 L113.73,511.40 L114.38,511.85 L115.03,512.30 L115.69,512.74 L116.35,513.18 L117.01,513.61 L117.68,514.04 L118.35,514.46 L119.03,514.87 L119.71,515.28 L120.39,515.69 L121.08,516.09 L121.77,516.49 L122.46,516.88 L123.16,517.27 L123.86,517.65 L124.56,518.02 L125.26,518.40 L125.97,518.76 L126.68,519.13 L127.39,519.48 L128.11,519.84 L128.83,520.19 L129.55,520.53 L130.27,520.87 L131.00,521.21 L131.73,521.54 L132.46,521.86 L133.19,522.19 L133.92,522.51 L134.66,522.82 L135.39,523.13 L136.13,523.43 L136.87,523.74 L137.62,524.03 L138.36,524.33 L139.10,524.62 L139.85,524.90 L140.60,525.18 L141.35,525.46 L142.10,525.73 L142.85,526.00 L143.60,526.27 L144.35,526.53 L145.11,526.79 L145.86,527.04 L146.62,527.29 L147.37,527.54 L148.13,527.79 L148.89,528.03 L149.65,528.26 L150.41,528.50 L151.18,528.73 L151.94,528.95 L152.71,529.18 L153.47,529.40 L154.24,529.61 L155.00,529.83 L155.77,530.04 L156.54,530.24 L157.31,530.45 L158.08,530.65 L158.86,530.85 L159.63,531.04 L160.40,531.23 L161.18,531.42 L161.95,531.61 L162.73,531.79 L163.50,531.97 L164.28,532.15 L165.06,532.32 L165.84,532.49 L166.62,532.66 L167.40,532.83 L168.18,532.99 L168.96,533.16 L169.75,533.31 L170.53,533.47 L171.31,533.63 L172.10,533.78 L172.88,533.93 L173.67,534.07 L174.46,534.22 L175.24,534.36 L176.03,534.50 L176.82,534.64 L177.61,534.77 L178.40,534.91 L179.19,535.04 L179.98,535.17 L180.77,535.30 L181.56,535.42 L182.35,535.55 L183.15,535.67 L183.94,535.79 L184.73,535.91 L185.53,536.02 L186.32,536.14 L187.11,536.25 L187.91,536.36 L188.70,536.47 L189.50,536.58 L190.30,536.69 L191.09,536.79 L191.89,536.89 L192.69,537.00 L193.48,537.10 L194.28,537.20 L195.08,537.30 L195.88,537.39 L196.68,537.49 L197.47,537.58 L198.27,537.67 L199.07,537.77 L199.87,537.86 L200.67,537.95 L201.47,538.04 L202.27,538.12 L203.07,538.21 L203.87,538.30 L204.67,538.38 L205.47,538.47 L206.27,538.55 L207.07,538.63 L207.87,538.71 L208.67,538.80 L209.47,538.88 L210.27,538.96 L211.07,539.04 L211.87,539.11 L212.67,539.19 L213.47,539.27 L214.27,539.35 L215.07,539.43 L215.87,539.50 L216.67,539.58 L217.47,539.65 L218.27,539.73 L219.07,539.81 L219.87,539.88 L220.67,539.96 L221.47,540.03 L222.27,540.11 L223.07,540.18 L223.87,540.26 L224.66,540.33 L225.46,540.41 L226.26,540.49 L227.06,540.56 L227.86,540.64 L228.65,540.71 L229.45,540.79 L230.25,540.87 L231.04,540.94 L231.84,541.02 L232.63,541.10 L233.43,541.18 L234.22,541.26 L235.02,541.34 L235.81,541.42 L236.60,541.50 L237.40,541.58 L238.19,541.66 L238.98,541.74 L239.77,541.83 L240.56,541.91 L241.36,542.00 L242.15,542.08 L242.94,542.17 L243.72,542.26 L244.51,542.35 L245.30,542.44 L246.09,542.53 L246.88,542.62 L247.66,542.71 L248.45,542.81 L249.23,542.90 L250.02,543.00 L250.80,543.10 V544.50 H272.30 V545.90 H278.50 V548.00 H286.80 V550.80 H293.10 V553.50" fill="none" stroke="#00BFC4" stroke-width="2.6" stroke-linejoin="round"/>
<path d="M74.30,458.50 L74.98,458.92 L75.65,459.35 L76.32,459.78 L76.98,460.22 L77.64,460.66 L78.30,461.10 L78.96,461.55 L79.61,462.01 L80.26,462.47 L80.91,462.93 L81.56,463.40 L82.20,463.87 L82.84,464.35 L83.48,464.83 L84.11,465.31 L84.75,465.79 L85.38,466.28 L86.01,466.77 L86.64,467.27 L87.27,467.76 L87.89,468.26 L88.51,468.76 L89.14,469.26 L89.76,469.77 L90.38,470.28 L91.00,470.79 L91.62,471.30 L92.23,471.81 L92.85,472.32 L93.46,472.83 L94.08,473.35 L94.70,473.86 L95.31,474.38 L95.92,474.90 L96.54,475.41 L97.15,475.93 L97.77,476.45 L98.38,476.96 L99.00,477.48 L99.61,478.00 L100.23,478.51 L100.84,479.03 L101.46,479.54 L102.08,480.05 L102.70,480.57 L103.32,481.08 L103.94,481.59 L104.56,482.09 L105.18,482.60 L105.81,483.10 L106.43,483.60 L107.06,484.10 L107.69,484.60 L108.32,485.09 L108.95,485.58 L109.59,486.07 L110.22,486.56 L110.86,487.04 L111.50,487.52 L112.15,488.00 L112.79,488.47 L113.44,488.95 L114.09,489.41 L114.74,489.88 L115.39,490.34 L116.04,490.80 L116.70,491.26 L117.35,491.72 L118.01,492.17 L118.67,492.62 L119.34,493.06 L120.00,493.51 L120.67,493.95 L121.34,494.38 L122.01,494.82 L122.68,495.25 L123.35,495.68 L124.02,496.10 L124.70,496.53 L125.38,496.95 L126.06,497.36 L126.74,497.78 L127.43,498.19 L128.11,498.60 L128.80,499.00 L129.49,499.40 L130.18,499.80 L130.87,500.20 L131.56,500.59 L132.26,500.98 L132.95,501.37 L133.65,501.75 L134.35,502.13 L135.05,502.51 L135.76,502.88 L136.46,503.26 L137.17,503.62 L137.87,503.99 L138.58,504.35 L139.29,504.71 L140.01,505.07 L140.72,505.42 L141.43,505.77 L142.15,506.12 L142.87,506.46 L143.59,506.80 L144.31,507.14 L145.03,507.47 L145.76,507.80 L146.48,508.13 L147.21,508.45 L147.94,508.77 L148.67,509.09 L149.40,509.41 L150.13,509.72 L150.86,510.03 L151.60,510.33 L152.34,510.63 L153.07,510.93 L153.81,511.23 L154.55,511.52 L155.30,511.81 L156.04,512.10 L156.78,512.38 L157.53,512.66 L158.28,512.93 L159.02,513.21 L159.77,513.47 L160.53,513.74 L161.28,514.00 L162.03,514.26 L162.79,514.52 L163.54,514.77 L164.30,515.02 L165.06,515.26 L165.82,515.51 L166.58,515.75 L167.34,515.98 L168.10,516.22 L168.87,516.44 L169.63,516.67 L170.40,516.90 L171.16,517.12 L171.93,517.33 L172.70,517.55 L173.47,517.76 L174.24,517.97 L175.01,518.18 L175.79,518.38 L176.56,518.59 L177.34,518.79 L178.11,518.98 L178.89,519.18 L179.66,519.37 L180.44,519.56 L181.22,519.75 L182.00,519.94 L182.78,520.12 L183.56,520.30 L184.34,520.48 L185.12,520.66 L185.90,520.84 L186.69,521.01 L187.47,521.19 L188.25,521.36 L189.04,521.53 L189.82,521.70 L190.61,521.86 L191.39,522.03 L192.18,522.19 L192.97,522.35 L193.75,522.52 L194.54,522.68 L195.33,522.84 L196.11,522.99 L196.90,523.15 L197.69,523.31 L198.48,523.46 L199.27,523.62 L200.06,523.77 L200.85,523.93 L201.63,524.08 L202.42,524.23 L203.21,524.38 L204.00,524.53 L204.79,524.68 L205.58,524.83 L206.37,524.98 L207.16,525.13 L207.95,525.28 L208.74,525.43 L209.53,525.58 L210.32,525.73 L211.10,525.88 L211.89,526.03 L212.68,526.18 L213.47,526.33 L214.26,526.48 L215.05,526.63 L215.83,526.78 L216.62,526.93 L217.41,527.08 L218.19,527.23 L218.98,527.38 L219.77,527.54 L220.55,527.69 L221.34,527.85 L222.12,528.00 L222.90,528.16 L223.69,528.32 L224.47,528.47 L225.25,528.63 L226.04,528.79 L226.82,528.95 L227.60,529.12 L228.38,529.28 L229.16,529.44 L229.94,529.60 L230.72,529.77 L231.50,529.93 L232.28,530.10 L233.05,530.26 L233.83,530.43 L234.61,530.59 L235.39,530.76 L236.17,530.93 L236.94,531.09 L237.72,531.26 L238.50,531.42 L239.27,531.59 L240.05,531.76 L240.83,531.92 L241.60,532.09 L242.38,532.26 L243.15,532.42 L243.93,532.59 L244.71,532.75 L245.48,532.92 L246.26,533.08 L247.03,533.25 L247.81,533.41 L248.58,533.57 L249.36,533.73 L250.14,533.89 L250.91,534.06 L251.69,534.22 L252.46,534.37 L253.24,534.53 L254.02,534.69 L254.79,534.85 L255.57,535.00 L256.35,535.16 L257.12,535.31 L257.90,535.46 L258.68,535.61 L259.46,535.76 L260.23,535.91 L261.01,536.06 L261.79,536.20 L262.57,536.35 L263.35,536.49 L264.13,536.63 L264.91,536.77 L265.69,536.91 L266.47,537.04 L267.25,537.18 L268.03,537.31 L268.81,537.44 L269.60,537.57 L270.38,537.70 L271.16,537.82 L271.95,537.94 L272.73,538.06 L273.51,538.18 L274.30,538.30 H296.30 V553.50" fill="none" stroke="#C77CFF" stroke-width="2.7" stroke-linejoin="round"/>
<text x="64.00" y="582.96" font-size="7.40" text-anchor="start" font-weight="bold" font-style="normal" fill="#000">Number at risk (number of events)</text>
<text transform="translate(11.20,597.80) rotate(-90)" x="0" y="0" font-size="6.10" text-anchor="middle" font-weight="bold" font-style="normal" fill="#000" textLength="13.4" lengthAdjust="spacingAndGlyphs">Strata</text>
<line x1="63.30" y1="585.80" x2="63.30" y2="609.65" stroke="#8a8a8a" stroke-width="1.1"/>
<line x1="62.75" y1="609.10" x2="297.20" y2="609.10" stroke="#8a8a8a" stroke-width="1.1"/>
<text x="18.60" y="591.43" font-size="4.80" text-anchor="start" font-weight="normal" font-style="normal" fill="#F8766D" textLength="43.4" lengthAdjust="spacingAndGlyphs">group=Salvage _ High</text>
<line x1="61.80" y1="589.70" x2="63.30" y2="589.70" stroke="#8a8a8a" stroke-width="0.6"/>
<text x="74.20" y="591.61" font-size="5.30" text-anchor="middle" font-weight="normal" font-style="normal" fill="#111">140 (0)</text>
<text x="116.50" y="591.61" font-size="5.30" text-anchor="middle" font-weight="normal" font-style="normal" fill="#111">24 (116)</text>
<text x="158.80" y="591.61" font-size="5.30" text-anchor="middle" font-weight="normal" font-style="normal" fill="#111">11 (129)</text>
<text x="201.10" y="591.61" font-size="5.30" text-anchor="middle" font-weight="normal" font-style="normal" fill="#111">3 (132)</text>
<text x="243.40" y="591.61" font-size="5.30" text-anchor="middle" font-weight="normal" font-style="normal" fill="#111">1 (134)</text>
<text x="285.70" y="591.61" font-size="5.30" text-anchor="middle" font-weight="normal" font-style="normal" fill="#111">0 (134)</text>
<text x="13.70" y="596.93" font-size="4.80" text-anchor="start" font-weight="normal" font-style="normal" fill="#7CAE00" textLength="48.3" lengthAdjust="spacingAndGlyphs">group=Salvage _ Normal</text>
<line x1="61.80" y1="595.20" x2="63.30" y2="595.20" stroke="#8a8a8a" stroke-width="0.6"/>
<text x="74.20" y="597.11" font-size="5.30" text-anchor="middle" font-weight="normal" font-style="normal" fill="#111">198 (0)</text>
<text x="116.50" y="597.11" font-size="5.30" text-anchor="middle" font-weight="normal" font-style="normal" fill="#111">70 (126)</text>
<text x="158.80" y="597.11" font-size="5.30" text-anchor="middle" font-weight="normal" font-style="normal" fill="#111">38 (149)</text>
<text x="201.10" y="597.11" font-size="5.30" text-anchor="middle" font-weight="normal" font-style="normal" fill="#111">8 (168)</text>
<text x="243.40" y="597.11" font-size="5.30" text-anchor="middle" font-weight="normal" font-style="normal" fill="#111">2 (173)</text>
<text x="285.70" y="597.11" font-size="5.30" text-anchor="middle" font-weight="normal" font-style="normal" fill="#111">0 (174)</text>
<text x="21.10" y="602.43" font-size="4.80" text-anchor="start" font-weight="normal" font-style="normal" fill="#00BFC4" textLength="40.9" lengthAdjust="spacingAndGlyphs">group=Upfront _ High</text>
<line x1="61.80" y1="600.70" x2="63.30" y2="600.70" stroke="#8a8a8a" stroke-width="0.6"/>
<text x="74.20" y="602.61" font-size="5.30" text-anchor="middle" font-weight="normal" font-style="normal" fill="#111">1222 (0)</text>
<text x="116.50" y="602.61" font-size="5.30" text-anchor="middle" font-weight="normal" font-style="normal" fill="#111">501 (693)</text>
<text x="158.80" y="602.61" font-size="5.30" text-anchor="middle" font-weight="normal" font-style="normal" fill="#111">200 (896)</text>
<text x="201.10" y="602.61" font-size="5.30" text-anchor="middle" font-weight="normal" font-style="normal" fill="#111">68 (950)</text>
<text x="243.40" y="602.61" font-size="5.30" text-anchor="middle" font-weight="normal" font-style="normal" fill="#111">10 (961)</text>
<text x="285.70" y="602.61" font-size="5.30" text-anchor="middle" font-weight="normal" font-style="normal" fill="#111">2 (964)</text>
<text x="16.10" y="607.83" font-size="4.80" text-anchor="start" font-weight="normal" font-style="normal" fill="#C77CFF" textLength="45.9" lengthAdjust="spacingAndGlyphs">group=Upfront _ Normal</text>
<line x1="61.80" y1="606.10" x2="63.30" y2="606.10" stroke="#8a8a8a" stroke-width="0.6"/>
<text x="74.20" y="608.01" font-size="5.30" text-anchor="middle" font-weight="normal" font-style="normal" fill="#111">1886 (0)</text>
<text x="116.50" y="608.01" font-size="5.30" text-anchor="middle" font-weight="normal" font-style="normal" fill="#111">1146 (686)</text>
<text x="158.80" y="608.01" font-size="5.30" text-anchor="middle" font-weight="normal" font-style="normal" fill="#111">527 (1001)</text>
<text x="201.10" y="608.01" font-size="5.30" text-anchor="middle" font-weight="normal" font-style="normal" fill="#111">188 (1117)</text>
<text x="243.40" y="608.01" font-size="5.30" text-anchor="middle" font-weight="normal" font-style="normal" fill="#111">48 (1148)</text>
<text x="285.70" y="608.01" font-size="5.30" text-anchor="middle" font-weight="normal" font-style="normal" fill="#111">5 (1157)</text>
<line x1="74.20" y1="609.10" x2="74.20" y2="610.60" stroke="#8a8a8a" stroke-width="0.6"/>
<text x="74.20" y="615.76" font-size="4.60" text-anchor="middle" font-weight="normal" font-style="normal" fill="#000">0</text>
<line x1="116.50" y1="609.10" x2="116.50" y2="610.60" stroke="#8a8a8a" stroke-width="0.6"/>
<text x="116.50" y="615.76" font-size="4.60" text-anchor="middle" font-weight="normal" font-style="normal" fill="#000">60</text>
<line x1="158.80" y1="609.10" x2="158.80" y2="610.60" stroke="#8a8a8a" stroke-width="0.6"/>
<text x="158.80" y="615.76" font-size="4.60" text-anchor="middle" font-weight="normal" font-style="normal" fill="#000">120</text>
<line x1="201.10" y1="609.10" x2="201.10" y2="610.60" stroke="#8a8a8a" stroke-width="0.6"/>
<text x="201.10" y="615.76" font-size="4.60" text-anchor="middle" font-weight="normal" font-style="normal" fill="#000">180</text>
<line x1="243.40" y1="609.10" x2="243.40" y2="610.60" stroke="#8a8a8a" stroke-width="0.6"/>
<text x="243.40" y="615.76" font-size="4.60" text-anchor="middle" font-weight="normal" font-style="normal" fill="#000">240</text>
<line x1="285.70" y1="609.10" x2="285.70" y2="610.60" stroke="#8a8a8a" stroke-width="0.6"/>
<text x="285.70" y="615.76" font-size="4.60" text-anchor="middle" font-weight="normal" font-style="normal" fill="#000">300</text>
<text x="180.60" y="621.56" font-size="7.10" text-anchor="middle" font-weight="bold" font-style="italic" fill="#000">Time (Months)</text>
</svg>
</body></html>
